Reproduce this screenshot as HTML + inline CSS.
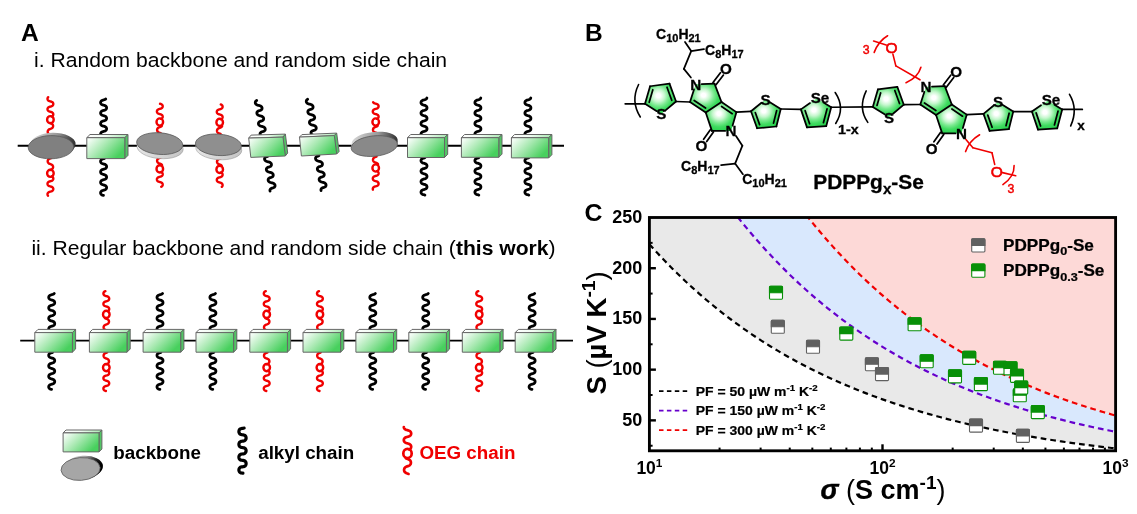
<!DOCTYPE html>
<html><head><meta charset="utf-8"><title>Figure</title>
<style>
html,body{margin:0;padding:0;background:#fff;}
body{width:1137px;height:514px;overflow:hidden;font-family:"Liberation Sans",sans-serif;}
svg{display:block;will-change:transform;transform:translateZ(0);}
text{font-family:"Liberation Sans",sans-serif;}
.b{font-weight:bold;}
</style></head><body>
<svg width="1137" height="514" viewBox="0 0 1137 514">
<defs>
<linearGradient id="gfront" x1="0" y1="0" x2="1" y2="0.55">
<stop offset="0" stop-color="#ffffff"/><stop offset="0.12" stop-color="#eefbf0"/><stop offset="0.5" stop-color="#a9e9b2"/><stop offset="1" stop-color="#48d05e"/>
</linearGradient>
<linearGradient id="gtop" x1="0" y1="0" x2="1" y2="0">
<stop offset="0" stop-color="#ffffff"/><stop offset="0.45" stop-color="#f2fcf3"/><stop offset="1" stop-color="#a6e8af"/>
</linearGradient>
<linearGradient id="gext" x1="0" y1="0" x2="1" y2="0">
<stop offset="0" stop-color="#e6e6e6"/><stop offset="1" stop-color="#c4c4c4"/>
</linearGradient>
<linearGradient id="gextup" x1="0" y1="0" x2="1" y2="0">
<stop offset="0" stop-color="#d8d8d8"/><stop offset="0.6" stop-color="#9a9a9a"/><stop offset="1" stop-color="#303030"/>
</linearGradient>
<linearGradient id="gextup2" x1="0" y1="0" x2="1" y2="0.3">
<stop offset="0" stop-color="#e0e0e0"/><stop offset="0.55" stop-color="#a0a0a0"/><stop offset="0.85" stop-color="#202020"/><stop offset="1" stop-color="#000000"/>
</linearGradient>
<radialGradient id="gring" cx="0.43" cy="0.40" r="0.68">
<stop offset="0" stop-color="#ffffff"/><stop offset="0.10" stop-color="#ffffff"/><stop offset="0.30" stop-color="#c6f7ce"/><stop offset="0.48" stop-color="#7cea91"/><stop offset="0.68" stop-color="#3fdb60"/><stop offset="1" stop-color="#1fcd46"/>
</radialGradient>
<clipPath id="plotclip"><rect x="649.4" y="217.5" width="466.2" height="233.3"/></clipPath>
</defs>
<rect x="0" y="0" width="1137" height="514" fill="#ffffff"/>

<!-- Panel A -->
<text x="21.0" y="41.2" font-size="24.6" class="b" fill="#000">A</text>
<text x="34.0" y="67.2" font-size="21.12" fill="#000">i. Random backbone and random side chain</text>
<text x="31.4" y="254.9" font-size="21.1" fill="#000">ii. Regular backbone and random side chain (<tspan class="b">this work</tspan>)</text>
<line x1="17.7" y1="145.7" x2="564" y2="145.7" stroke="#000" stroke-width="1.9"/>
<path d="M51.23,134.94 L50.80,134.77 L50.36,134.61 L49.91,134.45 L49.48,134.28 L49.08,134.07 L48.71,133.82 L48.38,133.53 L48.12,133.19 L47.91,132.80 L47.77,132.38 L47.71,131.93 L47.71,131.48 L47.79,131.04 L47.94,130.62 L48.16,130.25 L48.44,129.91 L48.77,129.62 L49.15,129.39 L49.56,129.19 L50.00,129.02 L50.44,128.86 L50.88,128.70 L51.31,128.53 L51.72,128.32 L52.09,128.08 L52.41,127.78 L52.68,127.44 L52.89,127.05 L53.03,126.63 L53.09,126.19 L53.09,125.74 L53.01,125.29 L52.86,124.88 L52.64,124.50 L52.36,124.16 L52.03,123.88 L51.65,123.64 L51.24,123.44 L50.81,123.27 L50.36,123.11" fill="none" stroke="#f00000" stroke-width="2.4" stroke-linecap="round" stroke-linejoin="round"/><ellipse cx="50.40" cy="119.70" rx="3.30" ry="3.60" fill="none" stroke="#f00000" stroke-width="2.4"/><path d="M51.72,116.56 L52.11,116.36 L52.46,116.12 L52.76,115.83 L53.00,115.49 L53.17,115.12 L53.27,114.73 L53.30,114.32 L53.25,113.91 L53.13,113.52 L52.94,113.16 L52.68,112.84 L52.36,112.56 L52.00,112.33 L51.59,112.14 L51.15,111.99 L50.69,111.86 L50.23,111.74 L49.77,111.61 L49.32,111.46 L48.91,111.28 L48.53,111.06 L48.20,110.80 L47.93,110.49 L47.72,110.14 L47.57,109.76 L47.51,109.35 L47.51,108.94 L47.59,108.54 L47.75,108.16 L47.97,107.82 L48.25,107.52 L48.59,107.26 L48.97,107.05 L49.40,106.87 L49.84,106.73 L50.30,106.60 L50.77,106.48 L51.22,106.35 L51.66,106.19 L52.06,105.99 L52.42,105.76 L52.73,105.47 L52.97,105.14 L53.15,104.78 L53.26,104.38 L53.30,103.98 L53.26,103.57 L53.15,103.17 L52.97,102.81 L52.72,102.48 L52.41,102.20 L52.05,101.96 L51.65,101.77 L51.21,101.61 L50.76,101.48 L50.29,101.35 L49.83,101.23 L49.39,101.08 L48.96,100.91 L48.58,100.70 L48.24,100.44 L47.96,100.14 L47.74,99.79 L47.59,99.41 L47.51,99.01 L47.51,98.60 L47.58,98.20 L47.72,97.81 L47.93,97.46 L48.21,97.15" fill="none" stroke="#f00000" stroke-width="2.4" stroke-linecap="round" stroke-linejoin="round"/>
<path d="M51.23,158.06 L50.80,158.23 L50.36,158.39 L49.91,158.55 L49.48,158.72 L49.08,158.93 L48.71,159.18 L48.38,159.47 L48.12,159.81 L47.91,160.20 L47.77,160.62 L47.71,161.07 L47.71,161.52 L47.79,161.96 L47.94,162.38 L48.16,162.75 L48.44,163.09 L48.77,163.38 L49.15,163.61 L49.56,163.81 L50.00,163.98 L50.44,164.14 L50.88,164.30 L51.31,164.47 L51.72,164.68 L52.09,164.92 L52.41,165.22 L52.68,165.56 L52.89,165.95 L53.03,166.37 L53.09,166.81 L53.09,167.26 L53.01,167.71 L52.86,168.12 L52.64,168.50 L52.36,168.84 L52.03,169.12 L51.65,169.36 L51.24,169.56 L50.81,169.73 L50.36,169.89" fill="none" stroke="#f00000" stroke-width="2.4" stroke-linecap="round" stroke-linejoin="round"/><ellipse cx="50.40" cy="173.30" rx="3.30" ry="3.60" fill="none" stroke="#f00000" stroke-width="2.4"/><path d="M51.72,176.44 L52.11,176.63 L52.46,176.88 L52.75,177.16 L52.99,177.49 L53.17,177.86 L53.27,178.25 L53.30,178.65 L53.26,179.05 L53.14,179.44 L52.96,179.80 L52.71,180.12 L52.41,180.40 L52.05,180.64 L51.65,180.83 L51.22,180.99 L50.77,181.12 L50.31,181.24 L49.86,181.37 L49.41,181.51 L49.00,181.68 L48.61,181.88 L48.27,182.13 L47.99,182.43 L47.76,182.77 L47.61,183.14 L47.52,183.53 L47.50,183.94 L47.56,184.34 L47.69,184.72 L47.89,185.08 L48.15,185.39 L48.47,185.66 L48.83,185.88 L49.24,186.07 L49.67,186.22 L50.13,186.35 L50.59,186.47 L51.04,186.59 L51.48,186.74 L51.89,186.92 L52.27,187.13 L52.59,187.39 L52.87,187.70 L53.08,188.05 L53.22,188.42 L53.29,188.82 L53.29,189.23 L53.22,189.62 L53.07,190.00 L52.86,190.35 L52.59,190.65 L52.26,190.91 L51.88,191.13 L51.47,191.30 L51.03,191.45 L50.58,191.57 L50.12,191.69 L49.66,191.82 L49.23,191.98 L48.82,192.16 L48.46,192.39 L48.14,192.66 L47.88,192.97 L47.69,193.33 L47.56,193.71 L47.50,194.11 L47.52,194.51 L47.61,194.91 L47.77,195.28 L47.99,195.62" fill="none" stroke="#f00000" stroke-width="2.4" stroke-linecap="round" stroke-linejoin="round"/>
<g transform="translate(2.0 -2.8) rotate(-1 50.9 147.2)"><ellipse cx="50.9" cy="147.2" rx="22.7" ry="11.6" fill="url(#gextup)" stroke="none" stroke-width="0.6"/></g><g transform="translate(1.0 -1.4) rotate(-1 50.9 147.2)"><ellipse cx="50.9" cy="147.2" rx="22.7" ry="11.6" fill="url(#gextup)"/></g><g transform="rotate(-1 50.9 147.2)"><ellipse cx="50.9" cy="147.2" rx="22.7" ry="11.6" fill="#808080" stroke="#5a5a5a" stroke-width="0.8"/></g>
<path d="M104.53,136.94 L103.96,136.77 L103.39,136.62 L102.82,136.46 L102.28,136.27 L101.79,136.02 L101.36,135.72 L101.02,135.34 L100.78,134.91 L100.63,134.44 L100.60,133.95 L100.68,133.46 L100.87,133.00 L101.15,132.59 L101.53,132.25 L101.98,131.97 L102.50,131.75 L103.05,131.57 L103.63,131.42 L104.20,131.26 L104.75,131.09 L105.26,130.86 L105.71,130.57 L106.08,130.22 L106.36,129.81 L106.53,129.35 L106.60,128.86 L106.56,128.36 L106.40,127.89 L106.15,127.47 L105.80,127.10 L105.37,126.80 L104.87,126.56 L104.33,126.37 L103.76,126.22 L103.18,126.07 L102.62,125.90 L102.10,125.69 L101.63,125.42 L101.23,125.09 L100.92,124.70 L100.71,124.25 L100.61,123.77 L100.62,123.27 L100.74,122.79 L100.96,122.35 L101.28,121.96 L101.69,121.64 L102.16,121.38 L102.69,121.18 L103.26,121.01 L103.83,120.86 L104.40,120.70 L104.94,120.51 L105.43,120.26 L105.85,119.95 L106.19,119.58 L106.43,119.15 L106.57,118.67 L106.60,118.18 L106.51,117.69 L106.32,117.24 L106.03,116.83 L105.65,116.49 L105.20,116.21 L104.68,115.99 L104.13,115.81 L103.55,115.66 L102.98,115.51 L102.43,115.33 L101.92,115.10 L101.48,114.81 L101.11,114.46 L100.84,114.04 L100.66,113.58 L100.60,113.09 L100.65,112.60 L100.80,112.13 L101.06,111.70 L101.42,111.34 L101.85,111.04 L102.35,110.80 L102.89,110.62 L103.46,110.46 L104.04,110.31 L104.60,110.14 L105.12,109.93 L105.59,109.66 L105.98,109.33 L106.29,108.93 L106.49,108.48 L106.59,108.00 L106.58,107.50 L106.46,107.02 L106.23,106.58 L105.91,106.20 L105.50,105.88 L105.02,105.62 L104.49,105.42 L103.92,105.26 L103.35,105.11 L102.78,104.95 L102.24,104.75 L101.76,104.50 L101.34,104.19 L101.00,103.81 L100.76,103.38 L100.63,102.90 L100.60,102.41 L100.69,101.93 L100.88,101.47 L101.18,101.07 L101.56,100.72 L102.02,100.45 L102.54,100.23 L103.09,100.06 L103.67,99.91 L104.24,99.75 L104.79,99.57 L105.29,99.34 L105.74,99.05" fill="none" stroke="#000" stroke-width="2.8" stroke-linecap="round" stroke-linejoin="round"/>
<path d="M104.53,158.46 L103.98,158.62 L103.43,158.77 L102.88,158.92 L102.36,159.10 L101.87,159.33 L101.45,159.61 L101.10,159.96 L100.84,160.36 L100.67,160.80 L100.60,161.27 L100.64,161.75 L100.77,162.20 L101.01,162.62 L101.33,162.99 L101.73,163.29 L102.19,163.53 L102.71,163.73 L103.25,163.88 L103.81,164.03 L104.35,164.18 L104.88,164.36 L105.36,164.59 L105.77,164.88 L106.12,165.23 L106.38,165.63 L106.54,166.08 L106.60,166.55 L106.56,167.03 L106.41,167.48 L106.18,167.90 L105.85,168.26 L105.44,168.56 L104.97,168.80 L104.46,168.99 L103.91,169.14 L103.36,169.29 L102.81,169.44 L102.29,169.63 L101.81,169.86 L101.40,170.15 L101.06,170.50 L100.81,170.91 L100.65,171.36 L100.60,171.83 L100.65,172.31 L100.80,172.76 L101.04,173.17 L101.38,173.53 L101.79,173.82 L102.26,174.06 L102.78,174.25 L103.32,174.40 L103.88,174.55 L104.42,174.70 L104.94,174.89 L105.41,175.13 L105.82,175.42 L106.16,175.78 L106.40,176.19 L106.55,176.64 L106.60,177.12 L106.55,177.59 L106.39,178.04 L106.14,178.45 L105.80,178.80 L105.39,179.09 L104.91,179.32 L104.39,179.51 L103.84,179.66 L103.29,179.81 L102.74,179.96 L102.23,180.15 L101.76,180.39 L101.35,180.69 L101.02,181.05 L100.79,181.47 L100.64,181.92 L100.60,182.40 L100.66,182.87 L100.82,183.32 L101.08,183.72 L101.43,184.07 L101.84,184.36 L102.32,184.59 L102.85,184.77 L103.39,184.92 L103.95,185.07 L104.49,185.22 L105.01,185.42 L105.47,185.66 L105.87,185.96 L106.19,186.33 L106.43,186.75 L106.56,187.20 L106.60,187.68 L106.53,188.15 L106.36,188.59 L106.10,188.99 L105.75,189.34 L105.33,189.62 L104.84,189.85 L104.32,190.03 L103.77,190.18 L103.22,190.33 L102.67,190.49 L102.16,190.68 L101.70,190.93 L101.31,191.24 L100.99,191.60 L100.76,192.02 L100.63,192.48 L100.60,192.96 L100.68,193.43 L100.85,193.87 L101.12,194.27 L101.48,194.61 L101.90,194.89 L102.39,195.11 L102.91,195.29 L103.47,195.44" fill="none" stroke="#000" stroke-width="2.8" stroke-linecap="round" stroke-linejoin="round"/>
<polygon points="86.80,137.70 90.00,134.50 128.00,134.50 124.80,137.70" fill="url(#gtop)" stroke="#666666" stroke-width="1.0" stroke-linejoin="round"/><polygon points="124.80,137.70 128.00,134.50 128.00,155.40 124.80,158.60" fill="#52c565" stroke="#666666" stroke-width="1.0" stroke-linejoin="round"/>
<polygon points="86.80,137.70 124.80,137.70 124.80,158.60 86.80,158.60" fill="url(#gfront)" stroke="#666666" stroke-width="1.0" stroke-linejoin="round"/>
<path d="M160.63,133.14 L160.35,133.02 L160.06,132.91 L159.76,132.81 L159.47,132.71 L159.18,132.60 L158.90,132.48 L158.62,132.35 L158.37,132.21 L158.12,132.04 L157.90,131.85 L157.71,131.64 L157.53,131.41 L157.39,131.16 L157.27,130.89 L157.18,130.61 L157.13,130.32 L157.10,130.02 L157.11,129.73 L157.15,129.43 L157.22,129.15 L157.32,128.87 L157.46,128.61 L157.62,128.37 L157.80,128.15 L158.01,127.95 L158.24,127.78 L158.49,127.62 L158.76,127.48 L159.04,127.36 L159.32,127.24 L159.62,127.14 L159.91,127.04 L160.20,126.93 L160.49,126.82 L160.77,126.70 L161.04,126.57 L161.30,126.42 L161.53,126.24 L161.75,126.05 L161.94,125.83" fill="none" stroke="#f00000" stroke-width="2.4" stroke-linecap="round" stroke-linejoin="round"/><ellipse cx="159.80" cy="122.00" rx="3.30" ry="3.60" fill="none" stroke="#f00000" stroke-width="2.4"/><path d="M161.12,118.86 L161.43,118.71 L161.72,118.53 L161.98,118.32 L162.21,118.08 L162.39,117.81 L162.54,117.52 L162.64,117.21 L162.69,116.90 L162.70,116.57 L162.66,116.25 L162.57,115.94 L162.44,115.64 L162.27,115.37 L162.06,115.12 L161.81,114.90 L161.53,114.71 L161.22,114.54 L160.89,114.41 L160.54,114.29 L160.18,114.18 L159.82,114.08 L159.45,113.99 L159.09,113.88 L158.74,113.77 L158.41,113.63 L158.10,113.47 L157.81,113.28 L157.56,113.06 L157.35,112.82 L157.17,112.54 L157.04,112.25 L156.95,111.94 L156.90,111.62 L156.91,111.29 L156.96,110.98 L157.05,110.67 L157.19,110.38 L157.37,110.11 L157.59,109.87 L157.85,109.65 L158.14,109.47 L158.45,109.31 L158.79,109.18 L159.14,109.06 L159.50,108.96 L159.87,108.86 L160.24,108.76 L160.60,108.66 L160.94,108.54 L161.27,108.39 L161.57,108.23 L161.85,108.03 L162.09,107.81 L162.30,107.55 L162.47,107.28 L162.59,106.98 L162.67,106.66 L162.70,106.34 L162.68,106.02 L162.62,105.70 L162.52,105.40 L162.37,105.11 L162.18,104.85 L161.95,104.61 L161.68,104.41 L161.39,104.23 L161.07,104.08 L160.73,103.95 L160.37,103.84 L160.01,103.73" fill="none" stroke="#f00000" stroke-width="2.4" stroke-linecap="round" stroke-linejoin="round"/>
<path d="M160.63,157.56 L160.34,157.68 L160.04,157.79 L159.74,157.90 L159.44,158.00 L159.14,158.11 L158.85,158.23 L158.58,158.37 L158.32,158.53 L158.07,158.70 L157.85,158.90 L157.66,159.12 L157.49,159.36 L157.34,159.62 L157.23,159.90 L157.16,160.20 L157.11,160.50 L157.10,160.80 L157.12,161.11 L157.18,161.41 L157.27,161.69 L157.39,161.97 L157.54,162.22 L157.72,162.46 L157.93,162.67 L158.15,162.86 L158.40,163.03 L158.67,163.18 L158.95,163.31 L159.24,163.43 L159.54,163.54 L159.84,163.64 L160.15,163.75 L160.44,163.86 L160.73,163.98 L161.01,164.11 L161.27,164.27 L161.52,164.44 L161.74,164.64 L161.94,164.86 L162.11,165.10" fill="none" stroke="#f00000" stroke-width="2.4" stroke-linecap="round" stroke-linejoin="round"/><ellipse cx="159.80" cy="168.90" rx="3.30" ry="3.60" fill="none" stroke="#f00000" stroke-width="2.4"/><path d="M161.12,172.04 L161.42,172.18 L161.70,172.35 L161.95,172.55 L162.17,172.78 L162.35,173.02 L162.50,173.29 L162.61,173.58 L162.67,173.88 L162.70,174.19 L162.68,174.50 L162.62,174.80 L162.52,175.09 L162.38,175.36 L162.21,175.62 L161.99,175.85 L161.75,176.05 L161.48,176.22 L161.18,176.38 L160.86,176.51 L160.53,176.62 L160.18,176.72 L159.84,176.81 L159.49,176.90 L159.14,177.00 L158.80,177.11 L158.48,177.24 L158.18,177.38 L157.90,177.55 L157.65,177.75 L157.43,177.98 L157.25,178.22 L157.10,178.49 L156.99,178.78 L156.93,179.08 L156.90,179.39 L156.92,179.70 L156.98,180.00 L157.08,180.29 L157.22,180.56 L157.39,180.82 L157.61,181.05 L157.85,181.25 L158.12,181.42 L158.42,181.58 L158.74,181.71 L159.07,181.82 L159.42,181.92 L159.76,182.01 L160.11,182.10 L160.46,182.20 L160.80,182.31 L161.12,182.44 L161.42,182.58 L161.70,182.75 L161.95,182.95 L162.17,183.18 L162.35,183.42 L162.50,183.69 L162.61,183.98 L162.67,184.28 L162.70,184.59 L162.68,184.90 L162.62,185.20 L162.52,185.49 L162.38,185.76 L162.21,186.02 L161.99,186.25 L161.75,186.45 L161.48,186.62 L161.18,186.78" fill="none" stroke="#f00000" stroke-width="2.4" stroke-linecap="round" stroke-linejoin="round"/>
<g transform="translate(0.4 4.2) rotate(4.6 159.7 143.6)"><ellipse cx="159.7" cy="143.6" rx="23.1" ry="10.8" fill="url(#gext)" stroke="#9a9a9a" stroke-width="0.6"/></g><g transform="translate(0.2 2.1) rotate(4.6 159.7 143.6)"><ellipse cx="159.7" cy="143.6" rx="23.1" ry="10.8" fill="url(#gext)"/></g><g transform="rotate(4.6 159.7 143.6)"><ellipse cx="159.7" cy="143.6" rx="23.1" ry="10.8" fill="#8f8f8f" stroke="#5a5a5a" stroke-width="0.8"/></g>
<path d="M220.53,133.94 L220.23,133.82 L219.93,133.70 L219.62,133.60 L219.31,133.49 L219.01,133.37 L218.71,133.25 L218.43,133.10 L218.17,132.94 L217.92,132.76 L217.70,132.55 L217.51,132.32 L217.34,132.06 L217.21,131.79 L217.10,131.50 L217.04,131.19 L217.00,130.88 L217.01,130.57 L217.04,130.26 L217.12,129.96 L217.22,129.67 L217.36,129.40 L217.53,129.15 L217.73,128.92 L217.96,128.72 L218.20,128.53 L218.47,128.38 L218.75,128.23 L219.05,128.11 L219.35,128.00 L219.66,127.89 L219.97,127.78 L220.28,127.67 L220.58,127.55 L220.86,127.41 L221.13,127.26 L221.39,127.08 L221.62,126.88 L221.82,126.66 L222.00,126.41 L222.15,126.15" fill="none" stroke="#f00000" stroke-width="2.4" stroke-linecap="round" stroke-linejoin="round"/><ellipse cx="219.70" cy="122.40" rx="3.30" ry="3.60" fill="none" stroke="#f00000" stroke-width="2.4"/><path d="M221.02,119.26 L221.32,119.11 L221.60,118.94 L221.86,118.74 L222.08,118.51 L222.26,118.26 L222.41,117.98 L222.52,117.69 L222.58,117.38 L222.60,117.07 L222.58,116.76 L222.51,116.45 L222.40,116.16 L222.25,115.89 L222.07,115.64 L221.84,115.41 L221.59,115.21 L221.31,115.04 L221.00,114.89 L220.67,114.76 L220.33,114.65 L219.98,114.55 L219.62,114.46 L219.27,114.37 L218.92,114.26 L218.59,114.15 L218.27,114.01 L217.97,113.85 L217.70,113.67 L217.46,113.46 L217.25,113.22 L217.08,112.96 L216.95,112.68 L216.86,112.38 L216.81,112.07 L216.80,111.76 L216.84,111.45 L216.92,111.15 L217.05,110.86 L217.21,110.59 L217.41,110.35 L217.65,110.13 L217.91,109.94 L218.20,109.78 L218.52,109.64 L218.85,109.52 L219.20,109.41 L219.55,109.32 L219.91,109.23 L220.26,109.13 L220.60,109.02 L220.93,108.90 L221.24,108.76 L221.53,108.59 L221.79,108.40 L222.02,108.17 L222.22,107.93 L222.37,107.66 L222.49,107.37 L222.57,107.07 L222.60,106.75 L222.59,106.44 L222.53,106.13 L222.44,105.84 L222.30,105.56 L222.12,105.30 L221.91,105.07 L221.66,104.86 L221.38,104.68 L221.08,104.53 L220.76,104.39" fill="none" stroke="#f00000" stroke-width="2.4" stroke-linecap="round" stroke-linejoin="round"/>
<path d="M220.53,158.46 L220.26,158.58 L219.97,158.68 L219.69,158.78 L219.40,158.88 L219.11,158.98 L218.84,159.10 L218.57,159.22 L218.32,159.36 L218.08,159.52 L217.86,159.70 L217.66,159.90 L217.48,160.12 L217.33,160.36 L217.21,160.61 L217.11,160.88 L217.04,161.16 L217.01,161.45 L217.00,161.74 L217.03,162.03 L217.08,162.31 L217.17,162.59 L217.28,162.85 L217.42,163.09 L217.59,163.32 L217.78,163.52 L217.99,163.71 L218.22,163.88 L218.47,164.02 L218.73,164.16 L219.01,164.27 L219.29,164.38 L219.57,164.48 L219.86,164.58 L220.15,164.68 L220.43,164.79 L220.70,164.91 L220.96,165.04 L221.21,165.19 L221.44,165.36 L221.65,165.55" fill="none" stroke="#f00000" stroke-width="2.4" stroke-linecap="round" stroke-linejoin="round"/><ellipse cx="219.70" cy="169.40" rx="3.30" ry="3.60" fill="none" stroke="#f00000" stroke-width="2.4"/><path d="M221.02,172.54 L221.31,172.68 L221.58,172.84 L221.82,173.03 L222.04,173.24 L222.22,173.48 L222.37,173.73 L222.48,174.01 L222.56,174.29 L222.60,174.59 L222.59,174.89 L222.55,175.18 L222.47,175.47 L222.35,175.74 L222.20,175.99 L222.01,176.23 L221.79,176.44 L221.55,176.62 L221.27,176.78 L220.98,176.92 L220.67,177.04 L220.34,177.14 L220.01,177.24 L219.67,177.33 L219.34,177.42 L219.00,177.51 L218.68,177.62 L218.37,177.74 L218.08,177.88 L217.81,178.05 L217.57,178.24 L217.36,178.45 L217.17,178.69 L217.02,178.94 L216.91,179.22 L216.84,179.51 L216.80,179.80 L216.81,180.10 L216.85,180.39 L216.93,180.68 L217.05,180.95 L217.21,181.20 L217.40,181.43 L217.62,181.64 L217.86,181.83 L218.14,181.99 L218.43,182.13 L218.74,182.24 L219.07,182.35 L219.40,182.44 L219.74,182.53 L220.08,182.62 L220.41,182.72 L220.73,182.82 L221.04,182.95 L221.33,183.09 L221.60,183.25 L221.84,183.44 L222.05,183.66 L222.23,183.90 L222.38,184.15 L222.49,184.43 L222.56,184.72 L222.60,185.01 L222.59,185.31 L222.55,185.60 L222.46,185.89 L222.34,186.16 L222.19,186.41 L222.00,186.64 L221.78,186.85" fill="none" stroke="#f00000" stroke-width="2.4" stroke-linecap="round" stroke-linejoin="round"/>
<g transform="translate(0.4 4.2) rotate(4.2 218.4 144.8)"><ellipse cx="218.4" cy="144.8" rx="23.0" ry="10.7" fill="url(#gext)" stroke="#9a9a9a" stroke-width="0.6"/></g><g transform="translate(0.2 2.1) rotate(4.2 218.4 144.8)"><ellipse cx="218.4" cy="144.8" rx="23.0" ry="10.7" fill="url(#gext)"/></g><g transform="rotate(4.2 218.4 144.8)"><ellipse cx="218.4" cy="144.8" rx="23.0" ry="10.7" fill="#8f8f8f" stroke="#5a5a5a" stroke-width="0.8"/></g>
<path d="M264.43,137.14 L263.85,136.98 L263.26,136.84 L262.67,136.69 L262.11,136.51 L261.59,136.30 L261.12,136.02 L260.72,135.69 L260.41,135.31 L260.18,134.88 L260.05,134.42 L260.02,133.95 L260.08,133.50 L260.24,133.08 L260.49,132.71 L260.82,132.39 L261.22,132.13 L261.66,131.93 L262.14,131.77 L262.64,131.62 L263.13,131.48 L263.61,131.31 L264.06,131.11 L264.45,130.85 L264.77,130.54 L265.02,130.16 L265.18,129.74 L265.24,129.29 L265.21,128.82 L265.08,128.36 L264.85,127.93 L264.53,127.55 L264.13,127.22 L263.66,126.95 L263.13,126.73 L262.57,126.56 L261.98,126.41 L261.39,126.27 L260.82,126.11 L260.27,125.92 L259.77,125.67 L259.34,125.37 L258.98,125.01 L258.70,124.60 L258.52,124.16 L258.44,123.69 L258.45,123.23 L258.57,122.79 L258.77,122.39 L259.06,122.05 L259.42,121.76 L259.84,121.53 L260.30,121.35 L260.79,121.20 L261.29,121.06 L261.78,120.90 L262.25,120.72 L262.67,120.49 L263.03,120.21 L263.32,119.86 L263.53,119.47 L263.64,119.03 L263.66,118.56 L263.58,118.10 L263.40,117.65 L263.12,117.24 L262.76,116.88 L262.33,116.58 L261.83,116.34 L261.29,116.14 L260.71,115.98 L260.12,115.84 L259.53,115.70 L258.97,115.52 L258.44,115.31 L257.97,115.04 L257.57,114.71 L257.25,114.32 L257.02,113.89 L256.89,113.44 L256.85,112.97 L256.91,112.51 L257.07,112.09 L257.32,111.72 L257.64,111.40 L258.03,111.14 L258.48,110.94 L258.95,110.77 L259.45,110.63 L259.95,110.49 L260.43,110.32 L260.87,110.12 L261.27,109.86 L261.60,109.55 L261.85,109.18 L262.01,108.76 L262.08,108.31 L262.05,107.84 L261.92,107.38 L261.69,106.95 L261.38,106.56 L260.98,106.23 L260.51,105.96 L259.99,105.74 L259.43,105.56 L258.84,105.42 L258.25,105.27 L257.68,105.12 L257.13,104.93 L256.63,104.69 L256.19,104.39 L255.83,104.03 L255.55,103.62 L255.36,103.18 L255.28,102.71 L255.29,102.25 L255.40,101.81 L255.60,101.41 L255.88,101.06 L256.24,100.77 L256.66,100.54" fill="none" stroke="#000" stroke-width="2.8" stroke-linecap="round" stroke-linejoin="round"/>
<path d="M267.93,156.26 L267.47,156.42 L267.00,156.55 L266.53,156.69 L266.08,156.85 L265.66,157.05 L265.29,157.30 L264.99,157.61 L264.75,157.96 L264.60,158.36 L264.53,158.79 L264.55,159.24 L264.67,159.68 L264.87,160.10 L265.16,160.49 L265.52,160.82 L265.95,161.10 L266.44,161.33 L266.97,161.51 L267.53,161.67 L268.10,161.80 L268.67,161.94 L269.22,162.10 L269.74,162.30 L270.21,162.55 L270.61,162.86 L270.95,163.21 L271.20,163.61 L271.37,164.04 L271.45,164.49 L271.43,164.93 L271.33,165.35 L271.14,165.74 L270.88,166.07 L270.55,166.35 L270.16,166.58 L269.73,166.76 L269.27,166.92 L268.80,167.05 L268.33,167.19 L267.88,167.35 L267.46,167.55 L267.09,167.80 L266.79,168.11 L266.55,168.46 L266.40,168.86 L266.33,169.29 L266.35,169.74 L266.47,170.18 L266.67,170.60 L266.96,170.99 L267.32,171.32 L267.75,171.60 L268.24,171.83 L268.77,172.01 L269.33,172.17 L269.90,172.30 L270.47,172.44 L271.02,172.60 L271.54,172.80 L272.01,173.05 L272.41,173.36 L272.75,173.71 L273.00,174.11 L273.17,174.54 L273.25,174.99 L273.23,175.43 L273.13,175.85 L272.94,176.24 L272.68,176.57 L272.35,176.85 L271.96,177.08 L271.53,177.26 L271.07,177.42 L270.60,177.55 L270.13,177.69 L269.68,177.85 L269.26,178.05 L268.89,178.30 L268.59,178.61 L268.35,178.96 L268.20,179.36 L268.13,179.79 L268.15,180.24 L268.27,180.68 L268.47,181.10 L268.76,181.49 L269.12,181.82 L269.55,182.10 L270.04,182.33 L270.57,182.51 L271.13,182.67 L271.70,182.80 L272.27,182.94 L272.82,183.10 L273.34,183.30 L273.81,183.55 L274.21,183.86 L274.55,184.21 L274.80,184.61 L274.97,185.04 L275.05,185.49 L275.03,185.93 L274.93,186.35 L274.74,186.74 L274.48,187.07 L274.15,187.35 L273.76,187.58 L273.33,187.76 L272.87,187.92 L272.40,188.05 L271.93,188.19 L271.48,188.35 L271.06,188.55 L270.69,188.80 L270.39,189.11 L270.15,189.46 L270.00,189.86 L269.93,190.29 L269.95,190.74 L270.07,191.18" fill="none" stroke="#000" stroke-width="2.8" stroke-linecap="round" stroke-linejoin="round"/>
<polygon points="248.70,138.10 251.10,135.10 285.40,134.10 283.00,137.10" fill="url(#gtop)" stroke="#666666" stroke-width="1.0" stroke-linejoin="round"/><polygon points="283.00,137.10 285.40,134.10 287.70,153.00 285.30,156.00" fill="#52c565" stroke="#666666" stroke-width="1.0" stroke-linejoin="round"/>
<polygon points="248.70,138.10 283.00,137.10 285.30,156.00 250.80,157.40" fill="url(#gfront)" stroke="#666666" stroke-width="1.0" stroke-linejoin="round"/>
<path d="M315.43,135.94 L314.85,135.78 L314.26,135.64 L313.67,135.49 L313.11,135.31 L312.59,135.10 L312.12,134.82 L311.72,134.49 L311.41,134.11 L311.18,133.68 L311.05,133.22 L311.02,132.75 L311.08,132.30 L311.24,131.88 L311.49,131.51 L311.82,131.19 L312.22,130.93 L312.66,130.73 L313.14,130.57 L313.64,130.42 L314.13,130.28 L314.61,130.11 L315.06,129.91 L315.45,129.65 L315.77,129.34 L316.02,128.96 L316.18,128.54 L316.24,128.09 L316.21,127.62 L316.08,127.16 L315.85,126.73 L315.53,126.35 L315.13,126.02 L314.66,125.75 L314.13,125.53 L313.57,125.36 L312.98,125.21 L312.39,125.07 L311.82,124.91 L311.27,124.72 L310.77,124.47 L310.34,124.17 L309.98,123.81 L309.70,123.40 L309.52,122.96 L309.44,122.49 L309.45,122.03 L309.57,121.59 L309.77,121.19 L310.06,120.85 L310.42,120.56 L310.84,120.33 L311.30,120.15 L311.79,120.00 L312.29,119.86 L312.78,119.70 L313.25,119.52 L313.67,119.29 L314.03,119.01 L314.32,118.66 L314.53,118.27 L314.64,117.83 L314.66,117.36 L314.58,116.90 L314.40,116.45 L314.12,116.04 L313.76,115.68 L313.33,115.38 L312.83,115.14 L312.29,114.94 L311.71,114.78 L311.12,114.64 L310.53,114.50 L309.97,114.32 L309.44,114.11 L308.97,113.84 L308.57,113.51 L308.25,113.12 L308.02,112.69 L307.89,112.24 L307.85,111.77 L307.91,111.31 L308.07,110.89 L308.32,110.52 L308.64,110.20 L309.03,109.94 L309.48,109.74 L309.95,109.57 L310.45,109.43 L310.95,109.29 L311.43,109.12 L311.87,108.92 L312.27,108.66 L312.60,108.35 L312.85,107.98 L313.01,107.56 L313.08,107.11 L313.05,106.64 L312.92,106.18 L312.69,105.75 L312.38,105.36 L311.98,105.03 L311.51,104.76 L310.99,104.54 L310.43,104.36 L309.84,104.22 L309.25,104.07 L308.68,103.92 L308.13,103.73 L307.63,103.49 L307.19,103.19 L306.83,102.83 L306.55,102.42 L306.36,101.98 L306.28,101.51 L306.29,101.05 L306.40,100.61 L306.60,100.21 L306.88,99.86 L307.24,99.57 L307.66,99.34" fill="none" stroke="#000" stroke-width="2.8" stroke-linecap="round" stroke-linejoin="round"/>
<path d="M318.93,155.76 L318.47,155.92 L318.00,156.05 L317.53,156.19 L317.08,156.35 L316.66,156.55 L316.29,156.80 L315.99,157.11 L315.75,157.46 L315.60,157.86 L315.53,158.29 L315.55,158.74 L315.67,159.18 L315.87,159.60 L316.16,159.99 L316.52,160.32 L316.95,160.60 L317.44,160.83 L317.97,161.01 L318.53,161.17 L319.10,161.30 L319.67,161.44 L320.22,161.60 L320.74,161.80 L321.21,162.05 L321.61,162.36 L321.95,162.71 L322.20,163.11 L322.37,163.54 L322.45,163.99 L322.43,164.43 L322.33,164.85 L322.14,165.24 L321.88,165.57 L321.55,165.85 L321.16,166.08 L320.73,166.26 L320.27,166.42 L319.80,166.55 L319.33,166.69 L318.88,166.85 L318.46,167.05 L318.09,167.30 L317.79,167.61 L317.55,167.96 L317.40,168.36 L317.33,168.79 L317.35,169.24 L317.47,169.68 L317.67,170.10 L317.96,170.49 L318.32,170.82 L318.75,171.10 L319.24,171.33 L319.77,171.51 L320.33,171.67 L320.90,171.80 L321.47,171.94 L322.02,172.10 L322.54,172.30 L323.01,172.55 L323.41,172.86 L323.75,173.21 L324.00,173.61 L324.17,174.04 L324.25,174.49 L324.23,174.93 L324.13,175.35 L323.94,175.74 L323.68,176.07 L323.35,176.35 L322.96,176.58 L322.53,176.76 L322.07,176.92 L321.60,177.05 L321.13,177.19 L320.68,177.35 L320.26,177.55 L319.89,177.80 L319.59,178.11 L319.35,178.46 L319.20,178.86 L319.13,179.29 L319.15,179.74 L319.27,180.18 L319.47,180.60 L319.76,180.99 L320.12,181.32 L320.55,181.60 L321.04,181.83 L321.57,182.01 L322.13,182.17 L322.70,182.30 L323.27,182.44 L323.82,182.60 L324.34,182.80 L324.81,183.05 L325.21,183.36 L325.55,183.71 L325.80,184.11 L325.97,184.54 L326.05,184.99 L326.03,185.43 L325.93,185.85 L325.74,186.24 L325.48,186.57 L325.15,186.85 L324.76,187.08 L324.33,187.26 L323.87,187.42 L323.40,187.55 L322.93,187.69 L322.48,187.85 L322.06,188.05 L321.69,188.30 L321.39,188.61 L321.15,188.96 L321.00,189.36 L320.93,189.79 L320.95,190.24 L321.07,190.68" fill="none" stroke="#000" stroke-width="2.8" stroke-linecap="round" stroke-linejoin="round"/>
<polygon points="299.50,137.10 301.90,134.60 336.70,133.10 334.30,135.60" fill="url(#gtop)" stroke="#666666" stroke-width="1.0" stroke-linejoin="round"/><polygon points="334.30,135.60 336.70,133.10 339.10,151.50 336.70,154.00" fill="#52c565" stroke="#666666" stroke-width="1.0" stroke-linejoin="round"/>
<polygon points="299.50,137.10 334.30,135.60 336.70,154.00 301.40,156.00" fill="url(#gfront)" stroke="#666666" stroke-width="1.0" stroke-linejoin="round"/>
<path d="M376.53,132.94 L376.26,132.82 L375.97,132.72 L375.69,132.62 L375.40,132.52 L375.11,132.42 L374.84,132.30 L374.57,132.18 L374.32,132.04 L374.08,131.88 L373.86,131.70 L373.66,131.50 L373.48,131.28 L373.33,131.04 L373.21,130.79 L373.11,130.52 L373.04,130.24 L373.01,129.95 L373.00,129.66 L373.03,129.37 L373.08,129.09 L373.17,128.81 L373.28,128.55 L373.42,128.31 L373.59,128.08 L373.78,127.88 L373.99,127.69 L374.22,127.52 L374.47,127.38 L374.73,127.24 L375.01,127.13 L375.29,127.02 L375.57,126.92 L375.86,126.82 L376.15,126.72 L376.43,126.61 L376.70,126.49 L376.96,126.36 L377.21,126.21 L377.44,126.04 L377.65,125.85" fill="none" stroke="#f00000" stroke-width="2.4" stroke-linecap="round" stroke-linejoin="round"/><ellipse cx="375.70" cy="122.00" rx="3.30" ry="3.60" fill="none" stroke="#f00000" stroke-width="2.4"/><path d="M377.02,118.86 L377.37,118.69 L377.70,118.47 L377.98,118.22 L378.21,117.94 L378.39,117.62 L378.52,117.27 L378.59,116.91 L378.60,116.54 L378.54,116.18 L378.43,115.83 L378.26,115.50 L378.04,115.21 L377.77,114.95 L377.46,114.73 L377.11,114.54 L376.73,114.38 L376.33,114.25 L375.92,114.14 L375.50,114.03 L375.09,113.91 L374.69,113.78 L374.31,113.63 L373.96,113.45 L373.64,113.22 L373.37,112.97 L373.15,112.67 L372.98,112.35 L372.86,112.00 L372.81,111.64 L372.81,111.27 L372.87,110.91 L373.00,110.56 L373.18,110.24 L373.41,109.95 L373.69,109.70 L374.01,109.48 L374.36,109.30 L374.75,109.15 L375.15,109.03 L375.56,108.92 L375.98,108.81 L376.39,108.69 L376.79,108.56 L377.17,108.40 L377.51,108.20 L377.82,107.97 L378.08,107.71 L378.29,107.41 L378.45,107.08 L378.56,106.73 L378.60,106.36 L378.58,105.99 L378.51,105.63 L378.37,105.29 L378.18,104.98 L377.94,104.70 L377.65,104.45 L377.32,104.25 L376.96,104.07 L376.57,103.93 L376.17,103.80 L375.75,103.69 L375.33,103.58 L374.92,103.46 L374.53,103.33 L374.16,103.16 L373.82,102.96 L373.53,102.72 L373.27,102.45 L373.07,102.14" fill="none" stroke="#f00000" stroke-width="2.4" stroke-linecap="round" stroke-linejoin="round"/>
<path d="M376.53,156.56 L376.24,156.68 L375.94,156.79 L375.63,156.90 L375.33,157.01 L375.02,157.12 L374.73,157.24 L374.45,157.38 L374.19,157.54 L373.95,157.72 L373.73,157.93 L373.53,158.15 L373.36,158.40 L373.23,158.67 L373.12,158.95 L373.05,159.25 L373.01,159.56 L373.00,159.87 L373.03,160.17 L373.10,160.47 L373.20,160.76 L373.33,161.03 L373.49,161.29 L373.67,161.52 L373.89,161.73 L374.13,161.91 L374.39,162.08 L374.66,162.22 L374.95,162.35 L375.25,162.47 L375.55,162.57 L375.86,162.68 L376.16,162.79 L376.46,162.90 L376.75,163.03 L377.02,163.18 L377.28,163.34 L377.52,163.53 L377.73,163.74 L377.92,163.97 L378.08,164.23" fill="none" stroke="#f00000" stroke-width="2.4" stroke-linecap="round" stroke-linejoin="round"/><ellipse cx="375.70" cy="168.00" rx="3.30" ry="3.60" fill="none" stroke="#f00000" stroke-width="2.4"/><path d="M377.02,171.14 L377.40,171.33 L377.74,171.56 L378.03,171.84 L378.27,172.15 L378.45,172.50 L378.56,172.88 L378.60,173.27 L378.57,173.67 L378.48,174.05 L378.32,174.41 L378.09,174.73 L377.81,175.02 L377.48,175.26 L377.11,175.46 L376.70,175.63 L376.27,175.77 L375.83,175.89 L375.38,176.00 L374.94,176.13 L374.52,176.28 L374.13,176.46 L373.77,176.68 L373.46,176.94 L373.20,177.24 L373.01,177.58 L372.87,177.95 L372.81,178.34 L372.81,178.74 L372.88,179.12 L373.02,179.49 L373.22,179.83 L373.49,180.13 L373.80,180.38 L374.16,180.60 L374.56,180.78 L374.98,180.92 L375.42,181.05 L375.87,181.16 L376.31,181.29 L376.74,181.43 L377.15,181.60 L377.52,181.80 L377.84,182.05 L378.12,182.34 L378.34,182.67 L378.49,183.03 L378.58,183.41 L378.60,183.80 L378.55,184.19 L378.43,184.57 L378.25,184.92 L378.01,185.23 L377.71,185.50 L377.36,185.73 L376.98,185.92 L376.56,186.08 L376.13,186.21 L375.68,186.33 L375.23,186.44 L374.80,186.58 L374.39,186.73 L374.00,186.93 L373.66,187.16 L373.37,187.44 L373.13,187.75 L372.95,188.10 L372.84,188.48 L372.80,188.87 L372.83,189.26 L372.92,189.65" fill="none" stroke="#f00000" stroke-width="2.4" stroke-linecap="round" stroke-linejoin="round"/>
<g transform="translate(0.3 -4.0) rotate(-5.8 374.3 146.05)"><ellipse cx="374.3" cy="146.05" rx="23.2" ry="10.2" fill="url(#gextup)" stroke="none" stroke-width="0.6"/></g><g transform="translate(0.15 -2.0) rotate(-5.8 374.3 146.05)"><ellipse cx="374.3" cy="146.05" rx="23.2" ry="10.2" fill="url(#gextup)"/></g><g transform="rotate(-5.8 374.3 146.05)"><ellipse cx="374.3" cy="146.05" rx="23.2" ry="10.2" fill="#898989" stroke="#5a5a5a" stroke-width="0.8"/></g>
<path d="M424.93,136.94 L424.35,136.77 L423.76,136.61 L423.18,136.45 L422.64,136.25 L422.14,136.00 L421.72,135.67 L421.38,135.28 L421.15,134.84 L421.02,134.35 L421.01,133.85 L421.11,133.35 L421.33,132.90 L421.65,132.49 L422.06,132.16 L422.54,131.89 L423.08,131.68 L423.65,131.52 L424.24,131.36 L424.82,131.20 L425.37,131.00 L425.86,130.74 L426.29,130.42 L426.62,130.03 L426.86,129.58 L426.98,129.09 L426.99,128.59 L426.88,128.10 L426.67,127.64 L426.35,127.24 L425.94,126.91 L425.46,126.64 L424.92,126.43 L424.34,126.26 L423.75,126.11 L423.17,125.95 L422.63,125.75 L422.13,125.49 L421.71,125.17 L421.38,124.78 L421.14,124.33 L421.02,123.84 L421.01,123.33 L421.12,122.84 L421.33,122.39 L421.65,121.99 L422.06,121.65 L422.55,121.39 L423.09,121.18 L423.67,121.01 L424.25,120.86 L424.83,120.69 L425.38,120.49 L425.87,120.24 L426.29,119.91 L426.63,119.52 L426.86,119.07 L426.98,118.58 L426.99,118.08 L426.88,117.59 L426.66,117.13 L426.34,116.73 L425.93,116.40 L425.45,116.14 L424.90,115.93 L424.33,115.76 L423.74,115.61 L423.16,115.44 L422.62,115.24 L422.12,114.98 L421.70,114.66 L421.37,114.27 L421.14,113.82 L421.02,113.33 L421.01,112.82 L421.12,112.33 L421.34,111.88 L421.66,111.48 L422.07,111.15 L422.56,110.88 L423.10,110.68 L423.68,110.51 L424.27,110.36 L424.84,110.19 L425.39,109.99 L425.88,109.73 L426.30,109.41 L426.63,109.01 L426.86,108.56 L426.98,108.07 L426.99,107.57 L426.88,107.08 L426.66,106.62 L426.33,106.23 L425.92,105.89 L425.43,105.63 L424.89,105.42 L424.32,105.26 L423.73,105.10 L423.15,104.94 L422.60,104.74 L422.11,104.48 L421.69,104.15 L421.36,103.76 L421.14,103.31 L421.02,102.82 L421.01,102.31 L421.12,101.82 L421.35,101.37 L421.67,100.97 L422.08,100.64 L422.57,100.38 L423.11,100.17 L423.69,100.01 L424.28,99.85 L424.86,99.69 L425.40,99.48 L425.89,99.23 L426.31,98.90 L426.64,98.50 L426.87,98.05" fill="none" stroke="#000" stroke-width="2.8" stroke-linecap="round" stroke-linejoin="round"/>
<path d="M424.93,157.76 L424.38,157.93 L423.81,158.07 L423.25,158.23 L422.72,158.41 L422.24,158.65 L421.81,158.94 L421.47,159.30 L421.21,159.71 L421.05,160.17 L421.00,160.65 L421.05,161.13 L421.21,161.59 L421.47,162.00 L421.81,162.36 L422.24,162.65 L422.72,162.89 L423.25,163.07 L423.81,163.23 L424.38,163.37 L424.93,163.54 L425.45,163.74 L425.91,163.99 L426.31,164.30 L426.63,164.68 L426.85,165.11 L426.98,165.58 L426.99,166.06 L426.91,166.54 L426.71,166.98 L426.43,167.38 L426.05,167.71 L425.61,167.99 L425.10,168.20 L424.56,168.38 L424.00,168.53 L423.44,168.67 L422.90,168.85 L422.39,169.06 L421.95,169.34 L421.57,169.67 L421.29,170.07 L421.09,170.51 L421.01,170.99 L421.02,171.47 L421.15,171.94 L421.37,172.37 L421.69,172.75 L422.09,173.06 L422.55,173.31 L423.07,173.51 L423.62,173.68 L424.19,173.82 L424.75,173.98 L425.28,174.16 L425.76,174.40 L426.19,174.69 L426.53,175.05 L426.79,175.46 L426.95,175.92 L427.00,176.40 L426.95,176.88 L426.79,177.34 L426.53,177.75 L426.19,178.11 L425.76,178.40 L425.28,178.64 L424.75,178.82 L424.19,178.98 L423.62,179.12 L423.07,179.29 L422.55,179.49 L422.09,179.74 L421.69,180.05 L421.37,180.43 L421.15,180.86 L421.02,181.33 L421.01,181.81 L421.09,182.29 L421.29,182.73 L421.57,183.13 L421.95,183.46 L422.39,183.74 L422.90,183.95 L423.44,184.13 L424.00,184.28 L424.56,184.42 L425.10,184.60 L425.61,184.81 L426.05,185.09 L426.43,185.42 L426.71,185.82 L426.91,186.26 L426.99,186.74 L426.98,187.22 L426.85,187.69 L426.63,188.12 L426.31,188.50 L425.91,188.81 L425.45,189.06 L424.93,189.26 L424.38,189.43 L423.81,189.57 L423.25,189.73 L422.72,189.91 L422.24,190.15 L421.81,190.44 L421.47,190.80 L421.21,191.21 L421.05,191.67 L421.00,192.15 L421.05,192.63 L421.21,193.09 L421.47,193.50 L421.81,193.86 L422.24,194.15 L422.72,194.39 L423.25,194.57 L423.81,194.73 L424.38,194.87 L424.93,195.04" fill="none" stroke="#000" stroke-width="2.8" stroke-linecap="round" stroke-linejoin="round"/>
<polygon points="407.50,137.70 410.70,134.50 447.70,134.50 444.50,137.70" fill="url(#gtop)" stroke="#666666" stroke-width="1.0" stroke-linejoin="round"/><polygon points="444.50,137.70 447.70,134.50 447.70,154.30 444.50,157.50" fill="#52c565" stroke="#666666" stroke-width="1.0" stroke-linejoin="round"/>
<polygon points="407.50,137.70 444.50,137.70 444.50,157.50 407.50,157.50" fill="url(#gfront)" stroke="#666666" stroke-width="1.0" stroke-linejoin="round"/>
<path d="M478.83,136.94 L478.25,136.77 L477.66,136.61 L477.08,136.45 L476.54,136.25 L476.04,136.00 L475.62,135.67 L475.28,135.28 L475.05,134.84 L474.92,134.35 L474.91,133.85 L475.01,133.35 L475.23,132.90 L475.55,132.49 L475.96,132.16 L476.44,131.89 L476.98,131.68 L477.55,131.52 L478.14,131.36 L478.72,131.20 L479.27,131.00 L479.76,130.74 L480.19,130.42 L480.52,130.03 L480.76,129.58 L480.88,129.09 L480.89,128.59 L480.78,128.10 L480.57,127.64 L480.25,127.24 L479.84,126.91 L479.36,126.64 L478.82,126.43 L478.24,126.26 L477.65,126.11 L477.07,125.95 L476.53,125.75 L476.03,125.49 L475.61,125.17 L475.28,124.78 L475.04,124.33 L474.92,123.84 L474.91,123.33 L475.02,122.84 L475.23,122.39 L475.55,121.99 L475.96,121.65 L476.45,121.39 L476.99,121.18 L477.57,121.01 L478.15,120.86 L478.73,120.69 L479.28,120.49 L479.77,120.24 L480.19,119.91 L480.53,119.52 L480.76,119.07 L480.88,118.58 L480.89,118.08 L480.78,117.59 L480.56,117.13 L480.24,116.73 L479.83,116.40 L479.35,116.14 L478.80,115.93 L478.23,115.76 L477.64,115.61 L477.06,115.44 L476.52,115.24 L476.02,114.98 L475.60,114.66 L475.27,114.27 L475.04,113.82 L474.92,113.33 L474.91,112.82 L475.02,112.33 L475.24,111.88 L475.56,111.48 L475.97,111.15 L476.46,110.88 L477.00,110.68 L477.58,110.51 L478.17,110.36 L478.74,110.19 L479.29,109.99 L479.78,109.73 L480.20,109.41 L480.53,109.01 L480.76,108.56 L480.88,108.07 L480.89,107.57 L480.78,107.08 L480.56,106.62 L480.23,106.23 L479.82,105.89 L479.33,105.63 L478.79,105.42 L478.22,105.26 L477.63,105.10 L477.05,104.94 L476.50,104.74 L476.01,104.48 L475.59,104.15 L475.26,103.76 L475.04,103.31 L474.92,102.82 L474.91,102.31 L475.02,101.82 L475.25,101.37 L475.57,100.97 L475.98,100.64 L476.47,100.38 L477.01,100.17 L477.59,100.01 L478.18,99.85 L478.76,99.69 L479.30,99.48 L479.79,99.23 L480.21,98.90 L480.54,98.50 L480.77,98.05" fill="none" stroke="#000" stroke-width="2.8" stroke-linecap="round" stroke-linejoin="round"/>
<path d="M478.83,157.76 L478.28,157.93 L477.71,158.07 L477.15,158.23 L476.62,158.41 L476.14,158.65 L475.71,158.94 L475.37,159.30 L475.11,159.71 L474.95,160.17 L474.90,160.65 L474.95,161.13 L475.11,161.59 L475.37,162.00 L475.71,162.36 L476.14,162.65 L476.62,162.89 L477.15,163.07 L477.71,163.23 L478.28,163.37 L478.83,163.54 L479.35,163.74 L479.81,163.99 L480.21,164.30 L480.53,164.68 L480.75,165.11 L480.88,165.58 L480.89,166.06 L480.81,166.54 L480.61,166.98 L480.33,167.38 L479.95,167.71 L479.51,167.99 L479.00,168.20 L478.46,168.38 L477.90,168.53 L477.34,168.67 L476.80,168.85 L476.29,169.06 L475.85,169.34 L475.47,169.67 L475.19,170.07 L474.99,170.51 L474.91,170.99 L474.92,171.47 L475.05,171.94 L475.27,172.37 L475.59,172.75 L475.99,173.06 L476.45,173.31 L476.97,173.51 L477.52,173.68 L478.09,173.82 L478.65,173.98 L479.18,174.16 L479.66,174.40 L480.09,174.69 L480.43,175.05 L480.69,175.46 L480.85,175.92 L480.90,176.40 L480.85,176.88 L480.69,177.34 L480.43,177.75 L480.09,178.11 L479.66,178.40 L479.18,178.64 L478.65,178.82 L478.09,178.98 L477.52,179.12 L476.97,179.29 L476.45,179.49 L475.99,179.74 L475.59,180.05 L475.27,180.43 L475.05,180.86 L474.92,181.33 L474.91,181.81 L474.99,182.29 L475.19,182.73 L475.47,183.13 L475.85,183.46 L476.29,183.74 L476.80,183.95 L477.34,184.13 L477.90,184.28 L478.46,184.42 L479.00,184.60 L479.51,184.81 L479.95,185.09 L480.33,185.42 L480.61,185.82 L480.81,186.26 L480.89,186.74 L480.88,187.22 L480.75,187.69 L480.53,188.12 L480.21,188.50 L479.81,188.81 L479.35,189.06 L478.83,189.26 L478.28,189.43 L477.71,189.57 L477.15,189.73 L476.62,189.91 L476.14,190.15 L475.71,190.44 L475.37,190.80 L475.11,191.21 L474.95,191.67 L474.90,192.15 L474.95,192.63 L475.11,193.09 L475.37,193.50 L475.71,193.86 L476.14,194.15 L476.62,194.39 L477.15,194.57 L477.71,194.73 L478.28,194.87 L478.83,195.04" fill="none" stroke="#000" stroke-width="2.8" stroke-linecap="round" stroke-linejoin="round"/>
<polygon points="461.40,137.70 464.60,134.50 502.00,134.50 498.80,137.70" fill="url(#gtop)" stroke="#666666" stroke-width="1.0" stroke-linejoin="round"/><polygon points="498.80,137.70 502.00,134.50 502.00,154.10 498.80,157.30" fill="#52c565" stroke="#666666" stroke-width="1.0" stroke-linejoin="round"/>
<polygon points="461.40,137.70 498.80,137.70 498.80,157.30 461.40,157.30" fill="url(#gfront)" stroke="#666666" stroke-width="1.0" stroke-linejoin="round"/>
<path d="M528.83,136.94 L528.25,136.77 L527.66,136.61 L527.08,136.45 L526.54,136.25 L526.04,136.00 L525.62,135.67 L525.28,135.28 L525.05,134.84 L524.92,134.35 L524.91,133.85 L525.01,133.35 L525.23,132.90 L525.55,132.49 L525.96,132.16 L526.44,131.89 L526.98,131.68 L527.55,131.52 L528.14,131.36 L528.72,131.20 L529.27,131.00 L529.76,130.74 L530.19,130.42 L530.52,130.03 L530.76,129.58 L530.88,129.09 L530.89,128.59 L530.78,128.10 L530.57,127.64 L530.25,127.24 L529.84,126.91 L529.36,126.64 L528.82,126.43 L528.24,126.26 L527.65,126.11 L527.07,125.95 L526.53,125.75 L526.03,125.49 L525.61,125.17 L525.28,124.78 L525.04,124.33 L524.92,123.84 L524.91,123.33 L525.02,122.84 L525.23,122.39 L525.55,121.99 L525.96,121.65 L526.45,121.39 L526.99,121.18 L527.57,121.01 L528.15,120.86 L528.73,120.69 L529.28,120.49 L529.77,120.24 L530.19,119.91 L530.53,119.52 L530.76,119.07 L530.88,118.58 L530.89,118.08 L530.78,117.59 L530.56,117.13 L530.24,116.73 L529.83,116.40 L529.35,116.14 L528.80,115.93 L528.23,115.76 L527.64,115.61 L527.06,115.44 L526.52,115.24 L526.02,114.98 L525.60,114.66 L525.27,114.27 L525.04,113.82 L524.92,113.33 L524.91,112.82 L525.02,112.33 L525.24,111.88 L525.56,111.48 L525.97,111.15 L526.46,110.88 L527.00,110.68 L527.58,110.51 L528.17,110.36 L528.74,110.19 L529.29,109.99 L529.78,109.73 L530.20,109.41 L530.53,109.01 L530.76,108.56 L530.88,108.07 L530.89,107.57 L530.78,107.08 L530.56,106.62 L530.23,106.23 L529.82,105.89 L529.33,105.63 L528.79,105.42 L528.22,105.26 L527.63,105.10 L527.05,104.94 L526.50,104.74 L526.01,104.48 L525.59,104.15 L525.26,103.76 L525.04,103.31 L524.92,102.82 L524.91,102.31 L525.02,101.82 L525.25,101.37 L525.57,100.97 L525.98,100.64 L526.47,100.38 L527.01,100.17 L527.59,100.01 L528.18,99.85 L528.76,99.69 L529.30,99.48 L529.79,99.23 L530.21,98.90 L530.54,98.50 L530.77,98.05" fill="none" stroke="#000" stroke-width="2.8" stroke-linecap="round" stroke-linejoin="round"/>
<path d="M528.83,157.76 L528.28,157.93 L527.71,158.07 L527.15,158.23 L526.62,158.41 L526.14,158.65 L525.71,158.94 L525.37,159.30 L525.11,159.71 L524.95,160.17 L524.90,160.65 L524.95,161.13 L525.11,161.59 L525.37,162.00 L525.71,162.36 L526.14,162.65 L526.62,162.89 L527.15,163.07 L527.71,163.23 L528.28,163.37 L528.83,163.54 L529.35,163.74 L529.81,163.99 L530.21,164.30 L530.53,164.68 L530.75,165.11 L530.88,165.58 L530.89,166.06 L530.81,166.54 L530.61,166.98 L530.33,167.38 L529.95,167.71 L529.51,167.99 L529.00,168.20 L528.46,168.38 L527.90,168.53 L527.34,168.67 L526.80,168.85 L526.29,169.06 L525.85,169.34 L525.47,169.67 L525.19,170.07 L524.99,170.51 L524.91,170.99 L524.92,171.47 L525.05,171.94 L525.27,172.37 L525.59,172.75 L525.99,173.06 L526.45,173.31 L526.97,173.51 L527.52,173.68 L528.09,173.82 L528.65,173.98 L529.18,174.16 L529.66,174.40 L530.09,174.69 L530.43,175.05 L530.69,175.46 L530.85,175.92 L530.90,176.40 L530.85,176.88 L530.69,177.34 L530.43,177.75 L530.09,178.11 L529.66,178.40 L529.18,178.64 L528.65,178.82 L528.09,178.98 L527.52,179.12 L526.97,179.29 L526.45,179.49 L525.99,179.74 L525.59,180.05 L525.27,180.43 L525.05,180.86 L524.92,181.33 L524.91,181.81 L524.99,182.29 L525.19,182.73 L525.47,183.13 L525.85,183.46 L526.29,183.74 L526.80,183.95 L527.34,184.13 L527.90,184.28 L528.46,184.42 L529.00,184.60 L529.51,184.81 L529.95,185.09 L530.33,185.42 L530.61,185.82 L530.81,186.26 L530.89,186.74 L530.88,187.22 L530.75,187.69 L530.53,188.12 L530.21,188.50 L529.81,188.81 L529.35,189.06 L528.83,189.26 L528.28,189.43 L527.71,189.57 L527.15,189.73 L526.62,189.91 L526.14,190.15 L525.71,190.44 L525.37,190.80 L525.11,191.21 L524.95,191.67 L524.90,192.15 L524.95,192.63 L525.11,193.09 L525.37,193.50 L525.71,193.86 L526.14,194.15 L526.62,194.39 L527.15,194.57 L527.71,194.73 L528.28,194.87 L528.83,195.04" fill="none" stroke="#000" stroke-width="2.8" stroke-linecap="round" stroke-linejoin="round"/>
<polygon points="511.40,137.70 514.60,134.50 551.90,134.50 548.70,137.70" fill="url(#gtop)" stroke="#666666" stroke-width="1.0" stroke-linejoin="round"/><polygon points="548.70,137.70 551.90,134.50 551.90,154.70 548.70,157.90" fill="#52c565" stroke="#666666" stroke-width="1.0" stroke-linejoin="round"/>
<polygon points="511.40,137.70 548.70,137.70 548.70,157.90 511.40,157.90" fill="url(#gfront)" stroke="#666666" stroke-width="1.0" stroke-linejoin="round"/>
<line x1="20.2" y1="340.6" x2="573" y2="340.6" stroke="#000" stroke-width="1.9"/>
<path d="M52.63,331.74 L52.06,331.57 L51.48,331.42 L50.90,331.26 L50.36,331.06 L49.86,330.81 L49.44,330.50 L49.10,330.11 L48.86,329.68 L48.73,329.19 L48.71,328.70 L48.80,328.21 L49.00,327.75 L49.30,327.34 L49.69,327.00 L50.16,326.73 L50.69,326.51 L51.25,326.34 L51.83,326.19 L52.41,326.03 L52.96,325.84 L53.46,325.60 L53.90,325.30 L54.25,324.93 L54.51,324.50 L54.66,324.02 L54.70,323.52 L54.62,323.03 L54.44,322.57 L54.15,322.15 L53.77,321.80 L53.32,321.52 L52.80,321.29 L52.24,321.12 L51.66,320.96 L51.08,320.81 L50.52,320.63 L50.01,320.39 L49.56,320.10 L49.20,319.74 L48.92,319.32 L48.76,318.85 L48.70,318.35 L48.76,317.85 L48.92,317.38 L49.20,316.96 L49.56,316.60 L50.01,316.31 L50.52,316.07 L51.08,315.89 L51.66,315.74 L52.24,315.58 L52.80,315.41 L53.32,315.18 L53.77,314.90 L54.15,314.55 L54.44,314.13 L54.62,313.67 L54.70,313.18 L54.66,312.68 L54.51,312.20 L54.25,311.77 L53.90,311.40 L53.46,311.10 L52.96,310.86 L52.41,310.67 L51.83,310.51 L51.25,310.36 L50.69,310.19 L50.16,309.97 L49.69,309.70 L49.30,309.36 L49.00,308.95 L48.80,308.49 L48.71,308.00 L48.73,307.51 L48.86,307.02 L49.10,306.59 L49.44,306.20 L49.86,305.89 L50.36,305.64 L50.90,305.44 L51.48,305.28 L52.06,305.13 L52.63,304.96 L53.16,304.76 L53.64,304.49 L54.05,304.16 L54.36,303.77 L54.58,303.32 L54.69,302.83 L54.68,302.33 L54.57,301.85 L54.34,301.40 L54.02,301.01 L53.61,300.68 L53.12,300.42 L52.58,300.22 L52.01,300.06 L51.43,299.91 L50.86,299.74 L50.32,299.54 L49.83,299.29 L49.41,298.97 L49.08,298.58 L48.85,298.14 L48.72,297.66 L48.71,297.16 L48.81,296.67 L49.02,296.21 L49.33,295.81 L49.73,295.48 L50.20,295.21 L50.73,295.00 L51.30,294.83 L51.88,294.68 L52.45,294.52 L53.00,294.33 L53.50,294.08 L53.93,293.77 L54.28,293.40" fill="none" stroke="#000" stroke-width="2.8" stroke-linecap="round" stroke-linejoin="round"/>
<path d="M52.63,352.46 L52.08,352.62 L51.53,352.77 L50.98,352.92 L50.46,353.10 L49.97,353.33 L49.55,353.61 L49.20,353.96 L48.94,354.36 L48.77,354.80 L48.70,355.27 L48.74,355.75 L48.87,356.20 L49.11,356.62 L49.43,356.99 L49.83,357.29 L50.29,357.53 L50.81,357.73 L51.35,357.88 L51.91,358.03 L52.45,358.18 L52.98,358.36 L53.46,358.59 L53.87,358.88 L54.22,359.23 L54.48,359.63 L54.64,360.08 L54.70,360.55 L54.66,361.03 L54.51,361.48 L54.28,361.90 L53.95,362.26 L53.54,362.56 L53.07,362.80 L52.56,362.99 L52.01,363.14 L51.46,363.29 L50.91,363.44 L50.39,363.63 L49.91,363.86 L49.50,364.15 L49.16,364.50 L48.91,364.91 L48.75,365.36 L48.70,365.83 L48.75,366.31 L48.90,366.76 L49.14,367.17 L49.48,367.53 L49.89,367.82 L50.36,368.06 L50.88,368.25 L51.42,368.40 L51.98,368.55 L52.52,368.70 L53.04,368.89 L53.51,369.13 L53.92,369.42 L54.26,369.78 L54.50,370.19 L54.65,370.64 L54.70,371.12 L54.65,371.59 L54.49,372.04 L54.24,372.45 L53.90,372.80 L53.49,373.09 L53.01,373.32 L52.49,373.51 L51.94,373.66 L51.39,373.81 L50.84,373.96 L50.33,374.15 L49.86,374.39 L49.45,374.69 L49.12,375.05 L48.89,375.47 L48.74,375.92 L48.70,376.40 L48.76,376.87 L48.92,377.32 L49.18,377.72 L49.53,378.07 L49.94,378.36 L50.42,378.59 L50.95,378.77 L51.49,378.92 L52.05,379.07 L52.59,379.22 L53.11,379.42 L53.57,379.66 L53.97,379.96 L54.29,380.33 L54.53,380.75 L54.66,381.20 L54.70,381.68 L54.63,382.15 L54.46,382.59 L54.20,382.99 L53.85,383.34 L53.43,383.62 L52.94,383.85 L52.42,384.03 L51.87,384.18 L51.32,384.33 L50.77,384.49 L50.26,384.68 L49.80,384.93 L49.41,385.24 L49.09,385.60 L48.86,386.02 L48.73,386.48 L48.70,386.96 L48.78,387.43 L48.95,387.87 L49.22,388.27 L49.58,388.61 L50.00,388.89 L50.49,389.11 L51.01,389.29 L51.57,389.44" fill="none" stroke="#000" stroke-width="2.8" stroke-linecap="round" stroke-linejoin="round"/>
<polygon points="34.80,332.60 38.00,329.40 75.60,329.40 72.40,332.60" fill="url(#gtop)" stroke="#666666" stroke-width="1.0" stroke-linejoin="round"/><polygon points="72.40,332.60 75.60,329.40 75.60,349.00 72.40,352.20" fill="#52c565" stroke="#666666" stroke-width="1.0" stroke-linejoin="round"/>
<polygon points="34.80,332.60 72.40,332.60 72.40,352.20 34.80,352.20" fill="url(#gfront)" stroke="#666666" stroke-width="1.0" stroke-linejoin="round"/>
<path d="M107.13,330.54 L106.67,330.35 L106.19,330.19 L105.71,330.02 L105.26,329.82 L104.83,329.59 L104.46,329.30 L104.14,328.96 L103.89,328.56 L103.71,328.12 L103.62,327.65 L103.61,327.16 L103.68,326.69 L103.84,326.24 L104.07,325.83 L104.38,325.48 L104.74,325.18 L105.16,324.93 L105.61,324.73 L106.08,324.55 L106.56,324.39 L107.03,324.21 L107.48,324.00 L107.89,323.75 L108.25,323.45 L108.55,323.09 L108.78,322.68 L108.93,322.23 L109.00,321.75 L108.98,321.27 L108.88,320.80 L108.70,320.36 L108.44,319.97 L108.12,319.63 L107.73,319.34 L107.31,319.11 L106.85,318.92 L106.37,318.75 L105.90,318.58 L105.43,318.40 L104.99,318.18" fill="none" stroke="#f00000" stroke-width="2.4" stroke-linecap="round" stroke-linejoin="round"/><ellipse cx="106.30" cy="314.40" rx="3.30" ry="3.60" fill="none" stroke="#f00000" stroke-width="2.4"/><path d="M107.62,311.26 L108.03,311.05 L108.40,310.79 L108.70,310.48 L108.94,310.12 L109.10,309.73 L109.19,309.31 L109.19,308.88 L109.11,308.46 L108.95,308.06 L108.72,307.70 L108.42,307.39 L108.06,307.12 L107.65,306.91 L107.20,306.74 L106.72,306.59 L106.23,306.46 L105.75,306.33 L105.28,306.18 L104.84,306.00 L104.44,305.77 L104.09,305.49 L103.81,305.17 L103.60,304.80 L103.46,304.39 L103.40,303.97 L103.43,303.54 L103.53,303.12 L103.72,302.74 L103.97,302.39 L104.30,302.09 L104.68,301.85 L105.10,301.65 L105.56,301.49 L106.04,301.35 L106.53,301.22 L107.01,301.08 L107.47,300.93 L107.90,300.73 L108.28,300.48 L108.61,300.19 L108.87,299.85 L109.06,299.46 L109.17,299.05 L109.20,298.62 L109.15,298.20 L109.02,297.79 L108.81,297.42 L108.53,297.09 L108.18,296.81 L107.79,296.58 L107.35,296.39 L106.88,296.24 L106.40,296.11 L105.91,295.98 L105.43,295.83 L104.98,295.66 L104.57,295.45 L104.20,295.19 L103.90,294.88 L103.66,294.52 L103.50,294.13 L103.41,293.71 L103.41,293.28 L103.49,292.86 L103.65,292.46 L103.88,292.10 L104.18,291.79 L104.54,291.52 L104.95,291.31 L105.40,291.14" fill="none" stroke="#f00000" stroke-width="2.4" stroke-linecap="round" stroke-linejoin="round"/>
<path d="M107.13,352.46 L106.70,352.63 L106.26,352.79 L105.82,352.94 L105.40,353.12 L104.99,353.32 L104.62,353.56 L104.30,353.85 L104.03,354.19 L103.82,354.57 L103.68,354.99 L103.61,355.43 L103.61,355.87 L103.68,356.31 L103.82,356.73 L104.03,357.11 L104.30,357.45 L104.62,357.74 L104.99,357.98 L105.40,358.18 L105.82,358.36 L106.26,358.51 L106.70,358.67 L107.13,358.84 L107.54,359.03 L107.92,359.27 L108.25,359.55 L108.53,359.88 L108.75,360.25 L108.90,360.67 L108.98,361.10 L109.00,361.55 L108.94,361.99 L108.80,362.41 L108.61,362.80 L108.35,363.14 L108.03,363.44 L107.67,363.69 L107.27,363.90 L106.85,364.08 L106.41,364.24" fill="none" stroke="#f00000" stroke-width="2.4" stroke-linecap="round" stroke-linejoin="round"/><ellipse cx="106.30" cy="367.60" rx="3.30" ry="3.60" fill="none" stroke="#f00000" stroke-width="2.4"/><path d="M107.62,370.74 L108.04,370.95 L108.41,371.22 L108.71,371.53 L108.95,371.90 L109.11,372.30 L109.19,372.73 L109.19,373.17 L109.10,373.59 L108.93,373.99 L108.68,374.35 L108.36,374.66 L107.98,374.92 L107.56,375.13 L107.10,375.30 L106.61,375.44 L106.11,375.57 L105.63,375.70 L105.16,375.87 L104.72,376.06 L104.33,376.31 L104.00,376.61 L103.73,376.95 L103.54,377.34 L103.43,377.76 L103.40,378.20 L103.46,378.63 L103.60,379.04 L103.82,379.42 L104.11,379.75 L104.46,380.03 L104.87,380.25 L105.32,380.44 L105.80,380.59 L106.29,380.72 L106.79,380.85 L107.27,381.00 L107.72,381.18 L108.13,381.41 L108.48,381.69 L108.78,382.01 L109.00,382.39 L109.14,382.80 L109.20,383.23 L109.17,383.67 L109.06,384.09 L108.87,384.48 L108.61,384.83 L108.28,385.13 L107.89,385.37 L107.45,385.57 L106.98,385.73 L106.50,385.87 L106.00,386.00 L105.51,386.14 L105.05,386.31 L104.62,386.52 L104.25,386.77 L103.93,387.08 L103.68,387.44 L103.51,387.84 L103.41,388.26 L103.41,388.70 L103.48,389.13 L103.64,389.53 L103.88,389.90 L104.19,390.22 L104.56,390.48 L104.97,390.70 L105.43,390.87 L105.92,391.02" fill="none" stroke="#f00000" stroke-width="2.4" stroke-linecap="round" stroke-linejoin="round"/>
<polygon points="89.40,332.60 92.60,329.40 130.20,329.40 127.00,332.60" fill="url(#gtop)" stroke="#666666" stroke-width="1.0" stroke-linejoin="round"/><polygon points="127.00,332.60 130.20,329.40 130.20,349.00 127.00,352.20" fill="#52c565" stroke="#666666" stroke-width="1.0" stroke-linejoin="round"/>
<polygon points="89.40,332.60 127.00,332.60 127.00,352.20 89.40,352.20" fill="url(#gfront)" stroke="#666666" stroke-width="1.0" stroke-linejoin="round"/>
<path d="M160.93,331.74 L160.36,331.57 L159.78,331.42 L159.20,331.26 L158.66,331.06 L158.16,330.81 L157.74,330.50 L157.40,330.11 L157.16,329.68 L157.03,329.19 L157.01,328.70 L157.10,328.21 L157.30,327.75 L157.60,327.34 L157.99,327.00 L158.46,326.73 L158.99,326.51 L159.55,326.34 L160.13,326.19 L160.71,326.03 L161.26,325.84 L161.76,325.60 L162.20,325.30 L162.55,324.93 L162.81,324.50 L162.96,324.02 L163.00,323.52 L162.92,323.03 L162.74,322.57 L162.45,322.15 L162.07,321.80 L161.62,321.52 L161.10,321.29 L160.54,321.12 L159.96,320.96 L159.38,320.81 L158.82,320.63 L158.31,320.39 L157.86,320.10 L157.50,319.74 L157.22,319.32 L157.06,318.85 L157.00,318.35 L157.06,317.85 L157.22,317.38 L157.50,316.96 L157.86,316.60 L158.31,316.31 L158.82,316.07 L159.38,315.89 L159.96,315.74 L160.54,315.58 L161.10,315.41 L161.62,315.18 L162.07,314.90 L162.45,314.55 L162.74,314.13 L162.92,313.67 L163.00,313.18 L162.96,312.68 L162.81,312.20 L162.55,311.77 L162.20,311.40 L161.76,311.10 L161.26,310.86 L160.71,310.67 L160.13,310.51 L159.55,310.36 L158.99,310.19 L158.46,309.97 L157.99,309.70 L157.60,309.36 L157.30,308.95 L157.10,308.49 L157.01,308.00 L157.03,307.51 L157.16,307.02 L157.40,306.59 L157.74,306.20 L158.16,305.89 L158.66,305.64 L159.20,305.44 L159.78,305.28 L160.36,305.13 L160.93,304.96 L161.46,304.76 L161.94,304.49 L162.35,304.16 L162.66,303.77 L162.88,303.32 L162.99,302.83 L162.98,302.33 L162.87,301.85 L162.64,301.40 L162.32,301.01 L161.91,300.68 L161.42,300.42 L160.88,300.22 L160.31,300.06 L159.73,299.91 L159.16,299.74 L158.62,299.54 L158.13,299.29 L157.71,298.97 L157.38,298.58 L157.15,298.14 L157.02,297.66 L157.01,297.16 L157.11,296.67 L157.32,296.21 L157.63,295.81 L158.03,295.48 L158.50,295.21 L159.03,295.00 L159.60,294.83 L160.18,294.68 L160.75,294.52 L161.30,294.33 L161.80,294.08 L162.23,293.77 L162.58,293.40" fill="none" stroke="#000" stroke-width="2.8" stroke-linecap="round" stroke-linejoin="round"/>
<path d="M160.93,352.46 L160.38,352.62 L159.83,352.77 L159.28,352.92 L158.76,353.10 L158.27,353.33 L157.85,353.61 L157.50,353.96 L157.24,354.36 L157.07,354.80 L157.00,355.27 L157.04,355.75 L157.17,356.20 L157.41,356.62 L157.73,356.99 L158.13,357.29 L158.59,357.53 L159.11,357.73 L159.65,357.88 L160.21,358.03 L160.75,358.18 L161.28,358.36 L161.76,358.59 L162.17,358.88 L162.52,359.23 L162.78,359.63 L162.94,360.08 L163.00,360.55 L162.96,361.03 L162.81,361.48 L162.58,361.90 L162.25,362.26 L161.84,362.56 L161.37,362.80 L160.86,362.99 L160.31,363.14 L159.76,363.29 L159.21,363.44 L158.69,363.63 L158.21,363.86 L157.80,364.15 L157.46,364.50 L157.21,364.91 L157.05,365.36 L157.00,365.83 L157.05,366.31 L157.20,366.76 L157.44,367.17 L157.78,367.53 L158.19,367.82 L158.66,368.06 L159.18,368.25 L159.72,368.40 L160.28,368.55 L160.82,368.70 L161.34,368.89 L161.81,369.13 L162.22,369.42 L162.56,369.78 L162.80,370.19 L162.95,370.64 L163.00,371.12 L162.95,371.59 L162.79,372.04 L162.54,372.45 L162.20,372.80 L161.79,373.09 L161.31,373.32 L160.79,373.51 L160.24,373.66 L159.69,373.81 L159.14,373.96 L158.63,374.15 L158.16,374.39 L157.75,374.69 L157.42,375.05 L157.19,375.47 L157.04,375.92 L157.00,376.40 L157.06,376.87 L157.22,377.32 L157.48,377.72 L157.83,378.07 L158.24,378.36 L158.72,378.59 L159.25,378.77 L159.79,378.92 L160.35,379.07 L160.89,379.22 L161.41,379.42 L161.87,379.66 L162.27,379.96 L162.59,380.33 L162.83,380.75 L162.96,381.20 L163.00,381.68 L162.93,382.15 L162.76,382.59 L162.50,382.99 L162.15,383.34 L161.73,383.62 L161.24,383.85 L160.72,384.03 L160.17,384.18 L159.62,384.33 L159.07,384.49 L158.56,384.68 L158.10,384.93 L157.71,385.24 L157.39,385.60 L157.16,386.02 L157.03,386.48 L157.00,386.96 L157.08,387.43 L157.25,387.87 L157.52,388.27 L157.88,388.61 L158.30,388.89 L158.79,389.11 L159.31,389.29 L159.87,389.44" fill="none" stroke="#000" stroke-width="2.8" stroke-linecap="round" stroke-linejoin="round"/>
<polygon points="143.10,332.60 146.30,329.40 183.90,329.40 180.70,332.60" fill="url(#gtop)" stroke="#666666" stroke-width="1.0" stroke-linejoin="round"/><polygon points="180.70,332.60 183.90,329.40 183.90,349.00 180.70,352.20" fill="#52c565" stroke="#666666" stroke-width="1.0" stroke-linejoin="round"/>
<polygon points="143.10,332.60 180.70,332.60 180.70,352.20 143.10,352.20" fill="url(#gfront)" stroke="#666666" stroke-width="1.0" stroke-linejoin="round"/>
<path d="M213.83,331.74 L213.26,331.57 L212.68,331.42 L212.10,331.26 L211.56,331.06 L211.06,330.81 L210.64,330.50 L210.30,330.11 L210.06,329.68 L209.93,329.19 L209.91,328.70 L210.00,328.21 L210.20,327.75 L210.50,327.34 L210.89,327.00 L211.36,326.73 L211.89,326.51 L212.45,326.34 L213.03,326.19 L213.61,326.03 L214.16,325.84 L214.66,325.60 L215.10,325.30 L215.45,324.93 L215.71,324.50 L215.86,324.02 L215.90,323.52 L215.82,323.03 L215.64,322.57 L215.35,322.15 L214.97,321.80 L214.52,321.52 L214.00,321.29 L213.44,321.12 L212.86,320.96 L212.28,320.81 L211.72,320.63 L211.21,320.39 L210.76,320.10 L210.40,319.74 L210.12,319.32 L209.96,318.85 L209.90,318.35 L209.96,317.85 L210.12,317.38 L210.40,316.96 L210.76,316.60 L211.21,316.31 L211.72,316.07 L212.28,315.89 L212.86,315.74 L213.44,315.58 L214.00,315.41 L214.52,315.18 L214.97,314.90 L215.35,314.55 L215.64,314.13 L215.82,313.67 L215.90,313.18 L215.86,312.68 L215.71,312.20 L215.45,311.77 L215.10,311.40 L214.66,311.10 L214.16,310.86 L213.61,310.67 L213.03,310.51 L212.45,310.36 L211.89,310.19 L211.36,309.97 L210.89,309.70 L210.50,309.36 L210.20,308.95 L210.00,308.49 L209.91,308.00 L209.93,307.51 L210.06,307.02 L210.30,306.59 L210.64,306.20 L211.06,305.89 L211.56,305.64 L212.10,305.44 L212.68,305.28 L213.26,305.13 L213.83,304.96 L214.36,304.76 L214.84,304.49 L215.25,304.16 L215.56,303.77 L215.78,303.32 L215.89,302.83 L215.88,302.33 L215.77,301.85 L215.54,301.40 L215.22,301.01 L214.81,300.68 L214.32,300.42 L213.78,300.22 L213.21,300.06 L212.63,299.91 L212.06,299.74 L211.52,299.54 L211.03,299.29 L210.61,298.97 L210.28,298.58 L210.05,298.14 L209.92,297.66 L209.91,297.16 L210.01,296.67 L210.22,296.21 L210.53,295.81 L210.93,295.48 L211.40,295.21 L211.93,295.00 L212.50,294.83 L213.08,294.68 L213.65,294.52 L214.20,294.33 L214.70,294.08 L215.13,293.77 L215.48,293.40" fill="none" stroke="#000" stroke-width="2.8" stroke-linecap="round" stroke-linejoin="round"/>
<path d="M213.83,352.46 L213.28,352.62 L212.73,352.77 L212.18,352.92 L211.66,353.10 L211.17,353.33 L210.75,353.61 L210.40,353.96 L210.14,354.36 L209.97,354.80 L209.90,355.27 L209.94,355.75 L210.07,356.20 L210.31,356.62 L210.63,356.99 L211.03,357.29 L211.49,357.53 L212.01,357.73 L212.55,357.88 L213.11,358.03 L213.65,358.18 L214.18,358.36 L214.66,358.59 L215.07,358.88 L215.42,359.23 L215.68,359.63 L215.84,360.08 L215.90,360.55 L215.86,361.03 L215.71,361.48 L215.48,361.90 L215.15,362.26 L214.74,362.56 L214.27,362.80 L213.76,362.99 L213.21,363.14 L212.66,363.29 L212.11,363.44 L211.59,363.63 L211.11,363.86 L210.70,364.15 L210.36,364.50 L210.11,364.91 L209.95,365.36 L209.90,365.83 L209.95,366.31 L210.10,366.76 L210.34,367.17 L210.68,367.53 L211.09,367.82 L211.56,368.06 L212.08,368.25 L212.62,368.40 L213.18,368.55 L213.72,368.70 L214.24,368.89 L214.71,369.13 L215.12,369.42 L215.46,369.78 L215.70,370.19 L215.85,370.64 L215.90,371.12 L215.85,371.59 L215.69,372.04 L215.44,372.45 L215.10,372.80 L214.69,373.09 L214.21,373.32 L213.69,373.51 L213.14,373.66 L212.59,373.81 L212.04,373.96 L211.53,374.15 L211.06,374.39 L210.65,374.69 L210.32,375.05 L210.09,375.47 L209.94,375.92 L209.90,376.40 L209.96,376.87 L210.12,377.32 L210.38,377.72 L210.73,378.07 L211.14,378.36 L211.62,378.59 L212.15,378.77 L212.69,378.92 L213.25,379.07 L213.79,379.22 L214.31,379.42 L214.77,379.66 L215.17,379.96 L215.49,380.33 L215.73,380.75 L215.86,381.20 L215.90,381.68 L215.83,382.15 L215.66,382.59 L215.40,382.99 L215.05,383.34 L214.63,383.62 L214.14,383.85 L213.62,384.03 L213.07,384.18 L212.52,384.33 L211.97,384.49 L211.46,384.68 L211.00,384.93 L210.61,385.24 L210.29,385.60 L210.06,386.02 L209.93,386.48 L209.90,386.96 L209.98,387.43 L210.15,387.87 L210.42,388.27 L210.78,388.61 L211.20,388.89 L211.69,389.11 L212.21,389.29 L212.77,389.44" fill="none" stroke="#000" stroke-width="2.8" stroke-linecap="round" stroke-linejoin="round"/>
<polygon points="196.00,332.60 199.20,329.40 236.80,329.40 233.60,332.60" fill="url(#gtop)" stroke="#666666" stroke-width="1.0" stroke-linejoin="round"/><polygon points="233.60,332.60 236.80,329.40 236.80,349.00 233.60,352.20" fill="#52c565" stroke="#666666" stroke-width="1.0" stroke-linejoin="round"/>
<polygon points="196.00,332.60 233.60,332.60 233.60,352.20 196.00,352.20" fill="url(#gfront)" stroke="#666666" stroke-width="1.0" stroke-linejoin="round"/>
<path d="M267.53,330.54 L267.07,330.35 L266.59,330.19 L266.11,330.02 L265.66,329.82 L265.23,329.59 L264.86,329.30 L264.54,328.96 L264.29,328.56 L264.11,328.12 L264.02,327.65 L264.01,327.16 L264.08,326.69 L264.24,326.24 L264.47,325.83 L264.78,325.48 L265.14,325.18 L265.56,324.93 L266.01,324.73 L266.48,324.55 L266.96,324.39 L267.43,324.21 L267.88,324.00 L268.29,323.75 L268.65,323.45 L268.95,323.09 L269.18,322.68 L269.33,322.23 L269.40,321.75 L269.38,321.27 L269.28,320.80 L269.10,320.36 L268.84,319.97 L268.52,319.63 L268.13,319.34 L267.71,319.11 L267.25,318.92 L266.77,318.75 L266.30,318.58 L265.83,318.40 L265.39,318.18" fill="none" stroke="#f00000" stroke-width="2.4" stroke-linecap="round" stroke-linejoin="round"/><ellipse cx="266.70" cy="314.40" rx="3.30" ry="3.60" fill="none" stroke="#f00000" stroke-width="2.4"/><path d="M268.02,311.26 L268.43,311.05 L268.80,310.79 L269.10,310.48 L269.34,310.12 L269.50,309.73 L269.59,309.31 L269.59,308.88 L269.51,308.46 L269.35,308.06 L269.12,307.70 L268.82,307.39 L268.46,307.12 L268.05,306.91 L267.60,306.74 L267.12,306.59 L266.63,306.46 L266.15,306.33 L265.68,306.18 L265.24,306.00 L264.84,305.77 L264.49,305.49 L264.21,305.17 L264.00,304.80 L263.86,304.39 L263.80,303.97 L263.83,303.54 L263.93,303.12 L264.12,302.74 L264.37,302.39 L264.70,302.09 L265.08,301.85 L265.50,301.65 L265.96,301.49 L266.44,301.35 L266.93,301.22 L267.41,301.08 L267.87,300.93 L268.30,300.73 L268.68,300.48 L269.01,300.19 L269.27,299.85 L269.46,299.46 L269.57,299.05 L269.60,298.62 L269.55,298.20 L269.42,297.79 L269.21,297.42 L268.93,297.09 L268.58,296.81 L268.19,296.58 L267.75,296.39 L267.28,296.24 L266.80,296.11 L266.31,295.98 L265.83,295.83 L265.38,295.66 L264.97,295.45 L264.60,295.19 L264.30,294.88 L264.06,294.52 L263.90,294.13 L263.81,293.71 L263.81,293.28 L263.89,292.86 L264.05,292.46 L264.28,292.10 L264.58,291.79 L264.94,291.52 L265.35,291.31 L265.80,291.14" fill="none" stroke="#f00000" stroke-width="2.4" stroke-linecap="round" stroke-linejoin="round"/>
<path d="M267.53,352.46 L267.10,352.63 L266.66,352.79 L266.22,352.94 L265.80,353.12 L265.39,353.32 L265.02,353.56 L264.70,353.85 L264.43,354.19 L264.22,354.57 L264.08,354.99 L264.01,355.43 L264.01,355.87 L264.08,356.31 L264.22,356.73 L264.43,357.11 L264.70,357.45 L265.02,357.74 L265.39,357.98 L265.80,358.18 L266.22,358.36 L266.66,358.51 L267.10,358.67 L267.53,358.84 L267.94,359.03 L268.32,359.27 L268.65,359.55 L268.93,359.88 L269.15,360.25 L269.30,360.67 L269.38,361.10 L269.40,361.55 L269.34,361.99 L269.20,362.41 L269.01,362.80 L268.75,363.14 L268.43,363.44 L268.07,363.69 L267.67,363.90 L267.25,364.08 L266.81,364.24" fill="none" stroke="#f00000" stroke-width="2.4" stroke-linecap="round" stroke-linejoin="round"/><ellipse cx="266.70" cy="367.60" rx="3.30" ry="3.60" fill="none" stroke="#f00000" stroke-width="2.4"/><path d="M268.02,370.74 L268.44,370.95 L268.81,371.22 L269.11,371.53 L269.35,371.90 L269.51,372.30 L269.59,372.73 L269.59,373.17 L269.50,373.59 L269.33,373.99 L269.08,374.35 L268.76,374.66 L268.38,374.92 L267.96,375.13 L267.50,375.30 L267.01,375.44 L266.51,375.57 L266.03,375.70 L265.56,375.87 L265.12,376.06 L264.73,376.31 L264.40,376.61 L264.13,376.95 L263.94,377.34 L263.83,377.76 L263.80,378.20 L263.86,378.63 L264.00,379.04 L264.22,379.42 L264.51,379.75 L264.86,380.03 L265.27,380.25 L265.72,380.44 L266.20,380.59 L266.69,380.72 L267.19,380.85 L267.67,381.00 L268.12,381.18 L268.53,381.41 L268.88,381.69 L269.18,382.01 L269.40,382.39 L269.54,382.80 L269.60,383.23 L269.57,383.67 L269.46,384.09 L269.27,384.48 L269.01,384.83 L268.68,385.13 L268.29,385.37 L267.85,385.57 L267.38,385.73 L266.90,385.87 L266.40,386.00 L265.91,386.14 L265.45,386.31 L265.02,386.52 L264.65,386.77 L264.33,387.08 L264.08,387.44 L263.91,387.84 L263.81,388.26 L263.81,388.70 L263.88,389.13 L264.04,389.53 L264.28,389.90 L264.59,390.22 L264.96,390.48 L265.37,390.70 L265.83,390.87 L266.32,391.02" fill="none" stroke="#f00000" stroke-width="2.4" stroke-linecap="round" stroke-linejoin="round"/>
<polygon points="249.80,332.60 253.00,329.40 290.60,329.40 287.40,332.60" fill="url(#gtop)" stroke="#666666" stroke-width="1.0" stroke-linejoin="round"/><polygon points="287.40,332.60 290.60,329.40 290.60,349.00 287.40,352.20" fill="#52c565" stroke="#666666" stroke-width="1.0" stroke-linejoin="round"/>
<polygon points="249.80,332.60 287.40,332.60 287.40,352.20 249.80,352.20" fill="url(#gfront)" stroke="#666666" stroke-width="1.0" stroke-linejoin="round"/>
<path d="M320.73,330.54 L320.27,330.35 L319.79,330.19 L319.31,330.02 L318.86,329.82 L318.43,329.59 L318.06,329.30 L317.74,328.96 L317.49,328.56 L317.31,328.12 L317.22,327.65 L317.21,327.16 L317.28,326.69 L317.44,326.24 L317.67,325.83 L317.98,325.48 L318.34,325.18 L318.76,324.93 L319.21,324.73 L319.68,324.55 L320.16,324.39 L320.63,324.21 L321.08,324.00 L321.49,323.75 L321.85,323.45 L322.15,323.09 L322.38,322.68 L322.53,322.23 L322.60,321.75 L322.58,321.27 L322.48,320.80 L322.30,320.36 L322.04,319.97 L321.72,319.63 L321.33,319.34 L320.91,319.11 L320.45,318.92 L319.97,318.75 L319.50,318.58 L319.03,318.40 L318.59,318.18" fill="none" stroke="#f00000" stroke-width="2.4" stroke-linecap="round" stroke-linejoin="round"/><ellipse cx="319.90" cy="314.40" rx="3.30" ry="3.60" fill="none" stroke="#f00000" stroke-width="2.4"/><path d="M321.22,311.26 L321.63,311.05 L322.00,310.79 L322.30,310.48 L322.54,310.12 L322.70,309.73 L322.79,309.31 L322.79,308.88 L322.71,308.46 L322.55,308.06 L322.32,307.70 L322.02,307.39 L321.66,307.12 L321.25,306.91 L320.80,306.74 L320.32,306.59 L319.83,306.46 L319.35,306.33 L318.88,306.18 L318.44,306.00 L318.04,305.77 L317.69,305.49 L317.41,305.17 L317.20,304.80 L317.06,304.39 L317.00,303.97 L317.03,303.54 L317.13,303.12 L317.32,302.74 L317.57,302.39 L317.90,302.09 L318.28,301.85 L318.70,301.65 L319.16,301.49 L319.64,301.35 L320.13,301.22 L320.61,301.08 L321.07,300.93 L321.50,300.73 L321.88,300.48 L322.21,300.19 L322.47,299.85 L322.66,299.46 L322.77,299.05 L322.80,298.62 L322.75,298.20 L322.62,297.79 L322.41,297.42 L322.13,297.09 L321.78,296.81 L321.39,296.58 L320.95,296.39 L320.48,296.24 L320.00,296.11 L319.51,295.98 L319.03,295.83 L318.58,295.66 L318.17,295.45 L317.80,295.19 L317.50,294.88 L317.26,294.52 L317.10,294.13 L317.01,293.71 L317.01,293.28 L317.09,292.86 L317.25,292.46 L317.48,292.10 L317.78,291.79 L318.14,291.52 L318.55,291.31 L319.00,291.14" fill="none" stroke="#f00000" stroke-width="2.4" stroke-linecap="round" stroke-linejoin="round"/>
<path d="M320.73,352.46 L320.30,352.63 L319.86,352.79 L319.42,352.94 L319.00,353.12 L318.59,353.32 L318.22,353.56 L317.90,353.85 L317.63,354.19 L317.42,354.57 L317.28,354.99 L317.21,355.43 L317.21,355.87 L317.28,356.31 L317.42,356.73 L317.63,357.11 L317.90,357.45 L318.22,357.74 L318.59,357.98 L319.00,358.18 L319.42,358.36 L319.86,358.51 L320.30,358.67 L320.73,358.84 L321.14,359.03 L321.52,359.27 L321.85,359.55 L322.13,359.88 L322.35,360.25 L322.50,360.67 L322.58,361.10 L322.60,361.55 L322.54,361.99 L322.40,362.41 L322.21,362.80 L321.95,363.14 L321.63,363.44 L321.27,363.69 L320.87,363.90 L320.45,364.08 L320.01,364.24" fill="none" stroke="#f00000" stroke-width="2.4" stroke-linecap="round" stroke-linejoin="round"/><ellipse cx="319.90" cy="367.60" rx="3.30" ry="3.60" fill="none" stroke="#f00000" stroke-width="2.4"/><path d="M321.22,370.74 L321.64,370.95 L322.01,371.22 L322.31,371.53 L322.55,371.90 L322.71,372.30 L322.79,372.73 L322.79,373.17 L322.70,373.59 L322.53,373.99 L322.28,374.35 L321.96,374.66 L321.58,374.92 L321.16,375.13 L320.70,375.30 L320.21,375.44 L319.71,375.57 L319.23,375.70 L318.76,375.87 L318.32,376.06 L317.93,376.31 L317.60,376.61 L317.33,376.95 L317.14,377.34 L317.03,377.76 L317.00,378.20 L317.06,378.63 L317.20,379.04 L317.42,379.42 L317.71,379.75 L318.06,380.03 L318.47,380.25 L318.92,380.44 L319.40,380.59 L319.89,380.72 L320.39,380.85 L320.87,381.00 L321.32,381.18 L321.73,381.41 L322.08,381.69 L322.38,382.01 L322.60,382.39 L322.74,382.80 L322.80,383.23 L322.77,383.67 L322.66,384.09 L322.47,384.48 L322.21,384.83 L321.88,385.13 L321.49,385.37 L321.05,385.57 L320.58,385.73 L320.10,385.87 L319.60,386.00 L319.11,386.14 L318.65,386.31 L318.22,386.52 L317.85,386.77 L317.53,387.08 L317.28,387.44 L317.11,387.84 L317.01,388.26 L317.01,388.70 L317.08,389.13 L317.24,389.53 L317.48,389.90 L317.79,390.22 L318.16,390.48 L318.57,390.70 L319.03,390.87 L319.52,391.02" fill="none" stroke="#f00000" stroke-width="2.4" stroke-linecap="round" stroke-linejoin="round"/>
<polygon points="303.00,332.60 306.20,329.40 343.80,329.40 340.60,332.60" fill="url(#gtop)" stroke="#666666" stroke-width="1.0" stroke-linejoin="round"/><polygon points="340.60,332.60 343.80,329.40 343.80,349.00 340.60,352.20" fill="#52c565" stroke="#666666" stroke-width="1.0" stroke-linejoin="round"/>
<polygon points="303.00,332.60 340.60,332.60 340.60,352.20 303.00,352.20" fill="url(#gfront)" stroke="#666666" stroke-width="1.0" stroke-linejoin="round"/>
<path d="M373.73,331.74 L373.16,331.57 L372.58,331.42 L372.00,331.26 L371.46,331.06 L370.96,330.81 L370.54,330.50 L370.20,330.11 L369.96,329.68 L369.83,329.19 L369.81,328.70 L369.90,328.21 L370.10,327.75 L370.40,327.34 L370.79,327.00 L371.26,326.73 L371.79,326.51 L372.35,326.34 L372.93,326.19 L373.51,326.03 L374.06,325.84 L374.56,325.60 L375.00,325.30 L375.35,324.93 L375.61,324.50 L375.76,324.02 L375.80,323.52 L375.72,323.03 L375.54,322.57 L375.25,322.15 L374.87,321.80 L374.42,321.52 L373.90,321.29 L373.34,321.12 L372.76,320.96 L372.18,320.81 L371.62,320.63 L371.11,320.39 L370.66,320.10 L370.30,319.74 L370.02,319.32 L369.86,318.85 L369.80,318.35 L369.86,317.85 L370.02,317.38 L370.30,316.96 L370.66,316.60 L371.11,316.31 L371.62,316.07 L372.18,315.89 L372.76,315.74 L373.34,315.58 L373.90,315.41 L374.42,315.18 L374.87,314.90 L375.25,314.55 L375.54,314.13 L375.72,313.67 L375.80,313.18 L375.76,312.68 L375.61,312.20 L375.35,311.77 L375.00,311.40 L374.56,311.10 L374.06,310.86 L373.51,310.67 L372.93,310.51 L372.35,310.36 L371.79,310.19 L371.26,309.97 L370.79,309.70 L370.40,309.36 L370.10,308.95 L369.90,308.49 L369.81,308.00 L369.83,307.51 L369.96,307.02 L370.20,306.59 L370.54,306.20 L370.96,305.89 L371.46,305.64 L372.00,305.44 L372.58,305.28 L373.16,305.13 L373.73,304.96 L374.26,304.76 L374.74,304.49 L375.15,304.16 L375.46,303.77 L375.68,303.32 L375.79,302.83 L375.78,302.33 L375.67,301.85 L375.44,301.40 L375.12,301.01 L374.71,300.68 L374.22,300.42 L373.68,300.22 L373.11,300.06 L372.53,299.91 L371.96,299.74 L371.42,299.54 L370.93,299.29 L370.51,298.97 L370.18,298.58 L369.95,298.14 L369.82,297.66 L369.81,297.16 L369.91,296.67 L370.12,296.21 L370.43,295.81 L370.83,295.48 L371.30,295.21 L371.83,295.00 L372.40,294.83 L372.98,294.68 L373.55,294.52 L374.10,294.33 L374.60,294.08 L375.03,293.77 L375.38,293.40" fill="none" stroke="#000" stroke-width="2.8" stroke-linecap="round" stroke-linejoin="round"/>
<path d="M373.73,352.46 L373.18,352.62 L372.63,352.77 L372.08,352.92 L371.56,353.10 L371.07,353.33 L370.65,353.61 L370.30,353.96 L370.04,354.36 L369.87,354.80 L369.80,355.27 L369.84,355.75 L369.97,356.20 L370.21,356.62 L370.53,356.99 L370.93,357.29 L371.39,357.53 L371.91,357.73 L372.45,357.88 L373.01,358.03 L373.55,358.18 L374.08,358.36 L374.56,358.59 L374.97,358.88 L375.32,359.23 L375.58,359.63 L375.74,360.08 L375.80,360.55 L375.76,361.03 L375.61,361.48 L375.38,361.90 L375.05,362.26 L374.64,362.56 L374.17,362.80 L373.66,362.99 L373.11,363.14 L372.56,363.29 L372.01,363.44 L371.49,363.63 L371.01,363.86 L370.60,364.15 L370.26,364.50 L370.01,364.91 L369.85,365.36 L369.80,365.83 L369.85,366.31 L370.00,366.76 L370.24,367.17 L370.58,367.53 L370.99,367.82 L371.46,368.06 L371.98,368.25 L372.52,368.40 L373.08,368.55 L373.62,368.70 L374.14,368.89 L374.61,369.13 L375.02,369.42 L375.36,369.78 L375.60,370.19 L375.75,370.64 L375.80,371.12 L375.75,371.59 L375.59,372.04 L375.34,372.45 L375.00,372.80 L374.59,373.09 L374.11,373.32 L373.59,373.51 L373.04,373.66 L372.49,373.81 L371.94,373.96 L371.43,374.15 L370.96,374.39 L370.55,374.69 L370.22,375.05 L369.99,375.47 L369.84,375.92 L369.80,376.40 L369.86,376.87 L370.02,377.32 L370.28,377.72 L370.63,378.07 L371.04,378.36 L371.52,378.59 L372.05,378.77 L372.59,378.92 L373.15,379.07 L373.69,379.22 L374.21,379.42 L374.67,379.66 L375.07,379.96 L375.39,380.33 L375.63,380.75 L375.76,381.20 L375.80,381.68 L375.73,382.15 L375.56,382.59 L375.30,382.99 L374.95,383.34 L374.53,383.62 L374.04,383.85 L373.52,384.03 L372.97,384.18 L372.42,384.33 L371.87,384.49 L371.36,384.68 L370.90,384.93 L370.51,385.24 L370.19,385.60 L369.96,386.02 L369.83,386.48 L369.80,386.96 L369.88,387.43 L370.05,387.87 L370.32,388.27 L370.68,388.61 L371.10,388.89 L371.59,389.11 L372.11,389.29 L372.67,389.44" fill="none" stroke="#000" stroke-width="2.8" stroke-linecap="round" stroke-linejoin="round"/>
<polygon points="355.90,332.60 359.10,329.40 396.70,329.40 393.50,332.60" fill="url(#gtop)" stroke="#666666" stroke-width="1.0" stroke-linejoin="round"/><polygon points="393.50,332.60 396.70,329.40 396.70,349.00 393.50,352.20" fill="#52c565" stroke="#666666" stroke-width="1.0" stroke-linejoin="round"/>
<polygon points="355.90,332.60 393.50,332.60 393.50,352.20 355.90,352.20" fill="url(#gfront)" stroke="#666666" stroke-width="1.0" stroke-linejoin="round"/>
<path d="M426.63,331.74 L426.06,331.57 L425.48,331.42 L424.90,331.26 L424.36,331.06 L423.86,330.81 L423.44,330.50 L423.10,330.11 L422.86,329.68 L422.73,329.19 L422.71,328.70 L422.80,328.21 L423.00,327.75 L423.30,327.34 L423.69,327.00 L424.16,326.73 L424.69,326.51 L425.25,326.34 L425.83,326.19 L426.41,326.03 L426.96,325.84 L427.46,325.60 L427.90,325.30 L428.25,324.93 L428.51,324.50 L428.66,324.02 L428.70,323.52 L428.62,323.03 L428.44,322.57 L428.15,322.15 L427.77,321.80 L427.32,321.52 L426.80,321.29 L426.24,321.12 L425.66,320.96 L425.08,320.81 L424.52,320.63 L424.01,320.39 L423.56,320.10 L423.20,319.74 L422.92,319.32 L422.76,318.85 L422.70,318.35 L422.76,317.85 L422.92,317.38 L423.20,316.96 L423.56,316.60 L424.01,316.31 L424.52,316.07 L425.08,315.89 L425.66,315.74 L426.24,315.58 L426.80,315.41 L427.32,315.18 L427.77,314.90 L428.15,314.55 L428.44,314.13 L428.62,313.67 L428.70,313.18 L428.66,312.68 L428.51,312.20 L428.25,311.77 L427.90,311.40 L427.46,311.10 L426.96,310.86 L426.41,310.67 L425.83,310.51 L425.25,310.36 L424.69,310.19 L424.16,309.97 L423.69,309.70 L423.30,309.36 L423.00,308.95 L422.80,308.49 L422.71,308.00 L422.73,307.51 L422.86,307.02 L423.10,306.59 L423.44,306.20 L423.86,305.89 L424.36,305.64 L424.90,305.44 L425.48,305.28 L426.06,305.13 L426.63,304.96 L427.16,304.76 L427.64,304.49 L428.05,304.16 L428.36,303.77 L428.58,303.32 L428.69,302.83 L428.68,302.33 L428.57,301.85 L428.34,301.40 L428.02,301.01 L427.61,300.68 L427.12,300.42 L426.58,300.22 L426.01,300.06 L425.43,299.91 L424.86,299.74 L424.32,299.54 L423.83,299.29 L423.41,298.97 L423.08,298.58 L422.85,298.14 L422.72,297.66 L422.71,297.16 L422.81,296.67 L423.02,296.21 L423.33,295.81 L423.73,295.48 L424.20,295.21 L424.73,295.00 L425.30,294.83 L425.88,294.68 L426.45,294.52 L427.00,294.33 L427.50,294.08 L427.93,293.77 L428.28,293.40" fill="none" stroke="#000" stroke-width="2.8" stroke-linecap="round" stroke-linejoin="round"/>
<path d="M426.63,352.46 L426.08,352.62 L425.53,352.77 L424.98,352.92 L424.46,353.10 L423.97,353.33 L423.55,353.61 L423.20,353.96 L422.94,354.36 L422.77,354.80 L422.70,355.27 L422.74,355.75 L422.87,356.20 L423.11,356.62 L423.43,356.99 L423.83,357.29 L424.29,357.53 L424.81,357.73 L425.35,357.88 L425.91,358.03 L426.45,358.18 L426.98,358.36 L427.46,358.59 L427.87,358.88 L428.22,359.23 L428.48,359.63 L428.64,360.08 L428.70,360.55 L428.66,361.03 L428.51,361.48 L428.28,361.90 L427.95,362.26 L427.54,362.56 L427.07,362.80 L426.56,362.99 L426.01,363.14 L425.46,363.29 L424.91,363.44 L424.39,363.63 L423.91,363.86 L423.50,364.15 L423.16,364.50 L422.91,364.91 L422.75,365.36 L422.70,365.83 L422.75,366.31 L422.90,366.76 L423.14,367.17 L423.48,367.53 L423.89,367.82 L424.36,368.06 L424.88,368.25 L425.42,368.40 L425.98,368.55 L426.52,368.70 L427.04,368.89 L427.51,369.13 L427.92,369.42 L428.26,369.78 L428.50,370.19 L428.65,370.64 L428.70,371.12 L428.65,371.59 L428.49,372.04 L428.24,372.45 L427.90,372.80 L427.49,373.09 L427.01,373.32 L426.49,373.51 L425.94,373.66 L425.39,373.81 L424.84,373.96 L424.33,374.15 L423.86,374.39 L423.45,374.69 L423.12,375.05 L422.89,375.47 L422.74,375.92 L422.70,376.40 L422.76,376.87 L422.92,377.32 L423.18,377.72 L423.53,378.07 L423.94,378.36 L424.42,378.59 L424.95,378.77 L425.49,378.92 L426.05,379.07 L426.59,379.22 L427.11,379.42 L427.57,379.66 L427.97,379.96 L428.29,380.33 L428.53,380.75 L428.66,381.20 L428.70,381.68 L428.63,382.15 L428.46,382.59 L428.20,382.99 L427.85,383.34 L427.43,383.62 L426.94,383.85 L426.42,384.03 L425.87,384.18 L425.32,384.33 L424.77,384.49 L424.26,384.68 L423.80,384.93 L423.41,385.24 L423.09,385.60 L422.86,386.02 L422.73,386.48 L422.70,386.96 L422.78,387.43 L422.95,387.87 L423.22,388.27 L423.58,388.61 L424.00,388.89 L424.49,389.11 L425.01,389.29 L425.57,389.44" fill="none" stroke="#000" stroke-width="2.8" stroke-linecap="round" stroke-linejoin="round"/>
<polygon points="408.80,332.60 412.00,329.40 449.60,329.40 446.40,332.60" fill="url(#gtop)" stroke="#666666" stroke-width="1.0" stroke-linejoin="round"/><polygon points="446.40,332.60 449.60,329.40 449.60,349.00 446.40,352.20" fill="#52c565" stroke="#666666" stroke-width="1.0" stroke-linejoin="round"/>
<polygon points="408.80,332.60 446.40,332.60 446.40,352.20 408.80,352.20" fill="url(#gfront)" stroke="#666666" stroke-width="1.0" stroke-linejoin="round"/>
<path d="M480.03,330.54 L479.57,330.35 L479.09,330.19 L478.61,330.02 L478.16,329.82 L477.73,329.59 L477.36,329.30 L477.04,328.96 L476.79,328.56 L476.61,328.12 L476.52,327.65 L476.51,327.16 L476.58,326.69 L476.74,326.24 L476.97,325.83 L477.28,325.48 L477.64,325.18 L478.06,324.93 L478.51,324.73 L478.98,324.55 L479.46,324.39 L479.93,324.21 L480.38,324.00 L480.79,323.75 L481.15,323.45 L481.45,323.09 L481.68,322.68 L481.83,322.23 L481.90,321.75 L481.88,321.27 L481.78,320.80 L481.60,320.36 L481.34,319.97 L481.02,319.63 L480.63,319.34 L480.21,319.11 L479.75,318.92 L479.27,318.75 L478.80,318.58 L478.33,318.40 L477.89,318.18" fill="none" stroke="#f00000" stroke-width="2.4" stroke-linecap="round" stroke-linejoin="round"/><ellipse cx="479.20" cy="314.40" rx="3.30" ry="3.60" fill="none" stroke="#f00000" stroke-width="2.4"/><path d="M480.52,311.26 L480.93,311.05 L481.30,310.79 L481.60,310.48 L481.84,310.12 L482.00,309.73 L482.09,309.31 L482.09,308.88 L482.01,308.46 L481.85,308.06 L481.62,307.70 L481.32,307.39 L480.96,307.12 L480.55,306.91 L480.10,306.74 L479.62,306.59 L479.13,306.46 L478.65,306.33 L478.18,306.18 L477.74,306.00 L477.34,305.77 L476.99,305.49 L476.71,305.17 L476.50,304.80 L476.36,304.39 L476.30,303.97 L476.33,303.54 L476.43,303.12 L476.62,302.74 L476.87,302.39 L477.20,302.09 L477.58,301.85 L478.00,301.65 L478.46,301.49 L478.94,301.35 L479.43,301.22 L479.91,301.08 L480.37,300.93 L480.80,300.73 L481.18,300.48 L481.51,300.19 L481.77,299.85 L481.96,299.46 L482.07,299.05 L482.10,298.62 L482.05,298.20 L481.92,297.79 L481.71,297.42 L481.43,297.09 L481.08,296.81 L480.69,296.58 L480.25,296.39 L479.78,296.24 L479.30,296.11 L478.81,295.98 L478.33,295.83 L477.88,295.66 L477.47,295.45 L477.10,295.19 L476.80,294.88 L476.56,294.52 L476.40,294.13 L476.31,293.71 L476.31,293.28 L476.39,292.86 L476.55,292.46 L476.78,292.10 L477.08,291.79 L477.44,291.52 L477.85,291.31 L478.30,291.14" fill="none" stroke="#f00000" stroke-width="2.4" stroke-linecap="round" stroke-linejoin="round"/>
<path d="M480.03,352.46 L479.60,352.63 L479.16,352.79 L478.72,352.94 L478.30,353.12 L477.89,353.32 L477.52,353.56 L477.20,353.85 L476.93,354.19 L476.72,354.57 L476.58,354.99 L476.51,355.43 L476.51,355.87 L476.58,356.31 L476.72,356.73 L476.93,357.11 L477.20,357.45 L477.52,357.74 L477.89,357.98 L478.30,358.18 L478.72,358.36 L479.16,358.51 L479.60,358.67 L480.03,358.84 L480.44,359.03 L480.82,359.27 L481.15,359.55 L481.43,359.88 L481.65,360.25 L481.80,360.67 L481.88,361.10 L481.90,361.55 L481.84,361.99 L481.70,362.41 L481.51,362.80 L481.25,363.14 L480.93,363.44 L480.57,363.69 L480.17,363.90 L479.75,364.08 L479.31,364.24" fill="none" stroke="#f00000" stroke-width="2.4" stroke-linecap="round" stroke-linejoin="round"/><ellipse cx="479.20" cy="367.60" rx="3.30" ry="3.60" fill="none" stroke="#f00000" stroke-width="2.4"/><path d="M480.52,370.74 L480.94,370.95 L481.31,371.22 L481.61,371.53 L481.85,371.90 L482.01,372.30 L482.09,372.73 L482.09,373.17 L482.00,373.59 L481.83,373.99 L481.58,374.35 L481.26,374.66 L480.88,374.92 L480.46,375.13 L480.00,375.30 L479.51,375.44 L479.01,375.57 L478.53,375.70 L478.06,375.87 L477.62,376.06 L477.23,376.31 L476.90,376.61 L476.63,376.95 L476.44,377.34 L476.33,377.76 L476.30,378.20 L476.36,378.63 L476.50,379.04 L476.72,379.42 L477.01,379.75 L477.36,380.03 L477.77,380.25 L478.22,380.44 L478.70,380.59 L479.19,380.72 L479.69,380.85 L480.17,381.00 L480.62,381.18 L481.03,381.41 L481.38,381.69 L481.68,382.01 L481.90,382.39 L482.04,382.80 L482.10,383.23 L482.07,383.67 L481.96,384.09 L481.77,384.48 L481.51,384.83 L481.18,385.13 L480.79,385.37 L480.35,385.57 L479.88,385.73 L479.40,385.87 L478.90,386.00 L478.41,386.14 L477.95,386.31 L477.52,386.52 L477.15,386.77 L476.83,387.08 L476.58,387.44 L476.41,387.84 L476.31,388.26 L476.31,388.70 L476.38,389.13 L476.54,389.53 L476.78,389.90 L477.09,390.22 L477.46,390.48 L477.87,390.70 L478.33,390.87 L478.82,391.02" fill="none" stroke="#f00000" stroke-width="2.4" stroke-linecap="round" stroke-linejoin="round"/>
<polygon points="462.30,332.60 465.50,329.40 503.10,329.40 499.90,332.60" fill="url(#gtop)" stroke="#666666" stroke-width="1.0" stroke-linejoin="round"/><polygon points="499.90,332.60 503.10,329.40 503.10,349.00 499.90,352.20" fill="#52c565" stroke="#666666" stroke-width="1.0" stroke-linejoin="round"/>
<polygon points="462.30,332.60 499.90,332.60 499.90,352.20 462.30,352.20" fill="url(#gfront)" stroke="#666666" stroke-width="1.0" stroke-linejoin="round"/>
<path d="M533.03,331.74 L532.46,331.57 L531.88,331.42 L531.30,331.26 L530.76,331.06 L530.26,330.81 L529.84,330.50 L529.50,330.11 L529.26,329.68 L529.13,329.19 L529.11,328.70 L529.20,328.21 L529.40,327.75 L529.70,327.34 L530.09,327.00 L530.56,326.73 L531.09,326.51 L531.65,326.34 L532.23,326.19 L532.81,326.03 L533.36,325.84 L533.86,325.60 L534.30,325.30 L534.65,324.93 L534.91,324.50 L535.06,324.02 L535.10,323.52 L535.02,323.03 L534.84,322.57 L534.55,322.15 L534.17,321.80 L533.72,321.52 L533.20,321.29 L532.64,321.12 L532.06,320.96 L531.48,320.81 L530.92,320.63 L530.41,320.39 L529.96,320.10 L529.60,319.74 L529.32,319.32 L529.16,318.85 L529.10,318.35 L529.16,317.85 L529.32,317.38 L529.60,316.96 L529.96,316.60 L530.41,316.31 L530.92,316.07 L531.48,315.89 L532.06,315.74 L532.64,315.58 L533.20,315.41 L533.72,315.18 L534.17,314.90 L534.55,314.55 L534.84,314.13 L535.02,313.67 L535.10,313.18 L535.06,312.68 L534.91,312.20 L534.65,311.77 L534.30,311.40 L533.86,311.10 L533.36,310.86 L532.81,310.67 L532.23,310.51 L531.65,310.36 L531.09,310.19 L530.56,309.97 L530.09,309.70 L529.70,309.36 L529.40,308.95 L529.20,308.49 L529.11,308.00 L529.13,307.51 L529.26,307.02 L529.50,306.59 L529.84,306.20 L530.26,305.89 L530.76,305.64 L531.30,305.44 L531.88,305.28 L532.46,305.13 L533.03,304.96 L533.56,304.76 L534.04,304.49 L534.45,304.16 L534.76,303.77 L534.98,303.32 L535.09,302.83 L535.08,302.33 L534.97,301.85 L534.74,301.40 L534.42,301.01 L534.01,300.68 L533.52,300.42 L532.98,300.22 L532.41,300.06 L531.83,299.91 L531.26,299.74 L530.72,299.54 L530.23,299.29 L529.81,298.97 L529.48,298.58 L529.25,298.14 L529.12,297.66 L529.11,297.16 L529.21,296.67 L529.42,296.21 L529.73,295.81 L530.13,295.48 L530.60,295.21 L531.13,295.00 L531.70,294.83 L532.28,294.68 L532.85,294.52 L533.40,294.33 L533.90,294.08 L534.33,293.77 L534.68,293.40" fill="none" stroke="#000" stroke-width="2.8" stroke-linecap="round" stroke-linejoin="round"/>
<path d="M533.03,352.46 L532.48,352.62 L531.93,352.77 L531.38,352.92 L530.86,353.10 L530.37,353.33 L529.95,353.61 L529.60,353.96 L529.34,354.36 L529.17,354.80 L529.10,355.27 L529.14,355.75 L529.27,356.20 L529.51,356.62 L529.83,356.99 L530.23,357.29 L530.69,357.53 L531.21,357.73 L531.75,357.88 L532.31,358.03 L532.85,358.18 L533.38,358.36 L533.86,358.59 L534.27,358.88 L534.62,359.23 L534.88,359.63 L535.04,360.08 L535.10,360.55 L535.06,361.03 L534.91,361.48 L534.68,361.90 L534.35,362.26 L533.94,362.56 L533.47,362.80 L532.96,362.99 L532.41,363.14 L531.86,363.29 L531.31,363.44 L530.79,363.63 L530.31,363.86 L529.90,364.15 L529.56,364.50 L529.31,364.91 L529.15,365.36 L529.10,365.83 L529.15,366.31 L529.30,366.76 L529.54,367.17 L529.88,367.53 L530.29,367.82 L530.76,368.06 L531.28,368.25 L531.82,368.40 L532.38,368.55 L532.92,368.70 L533.44,368.89 L533.91,369.13 L534.32,369.42 L534.66,369.78 L534.90,370.19 L535.05,370.64 L535.10,371.12 L535.05,371.59 L534.89,372.04 L534.64,372.45 L534.30,372.80 L533.89,373.09 L533.41,373.32 L532.89,373.51 L532.34,373.66 L531.79,373.81 L531.24,373.96 L530.73,374.15 L530.26,374.39 L529.85,374.69 L529.52,375.05 L529.29,375.47 L529.14,375.92 L529.10,376.40 L529.16,376.87 L529.32,377.32 L529.58,377.72 L529.93,378.07 L530.34,378.36 L530.82,378.59 L531.35,378.77 L531.89,378.92 L532.45,379.07 L532.99,379.22 L533.51,379.42 L533.97,379.66 L534.37,379.96 L534.69,380.33 L534.93,380.75 L535.06,381.20 L535.10,381.68 L535.03,382.15 L534.86,382.59 L534.60,382.99 L534.25,383.34 L533.83,383.62 L533.34,383.85 L532.82,384.03 L532.27,384.18 L531.72,384.33 L531.17,384.49 L530.66,384.68 L530.20,384.93 L529.81,385.24 L529.49,385.60 L529.26,386.02 L529.13,386.48 L529.10,386.96 L529.18,387.43 L529.35,387.87 L529.62,388.27 L529.98,388.61 L530.40,388.89 L530.89,389.11 L531.41,389.29 L531.97,389.44" fill="none" stroke="#000" stroke-width="2.8" stroke-linecap="round" stroke-linejoin="round"/>
<polygon points="515.20,332.60 518.40,329.40 556.00,329.40 552.80,332.60" fill="url(#gtop)" stroke="#666666" stroke-width="1.0" stroke-linejoin="round"/><polygon points="552.80,332.60 556.00,329.40 556.00,349.00 552.80,352.20" fill="#52c565" stroke="#666666" stroke-width="1.0" stroke-linejoin="round"/>
<polygon points="515.20,332.60 552.80,332.60 552.80,352.20 515.20,352.20" fill="url(#gfront)" stroke="#666666" stroke-width="1.0" stroke-linejoin="round"/>
<polygon points="63.10,432.90 66.00,430.00 101.90,430.00 99.00,432.90" fill="url(#gtop)" stroke="#666666" stroke-width="1.0" stroke-linejoin="round"/><polygon points="99.00,432.90 101.90,430.00 101.90,449.00 99.00,451.90" fill="#52c565" stroke="#666666" stroke-width="1.0" stroke-linejoin="round"/><polygon points="63.10,432.90 99.00,432.90 99.00,451.90 63.10,451.90" fill="url(#gfront)" stroke="#666666" stroke-width="1.0" stroke-linejoin="round"/>
<g transform="translate(2.8 -1.8) rotate(-4 80.6 469.0)"><ellipse cx="80.6" cy="469.0" rx="19.6" ry="11.4" fill="url(#gextup2)" stroke="none" stroke-width="0.6"/></g><g transform="translate(1.4 -0.9) rotate(-4 80.6 469.0)"><ellipse cx="80.6" cy="469.0" rx="19.6" ry="11.4" fill="url(#gextup2)"/></g><g transform="rotate(-4 80.6 469.0)"><ellipse cx="80.6" cy="469.0" rx="19.6" ry="11.4" fill="#a6a6a6" stroke="#5a5a5a" stroke-width="0.8"/></g>
<text x="113.3" y="458.6" font-size="18.8" class="b" fill="#000">backbone</text>
<path d="M244.13,428.05 L243.51,428.21 L242.84,428.32 L242.16,428.40 L241.50,428.51 L240.87,428.67 L240.30,428.93 L239.81,429.29 L239.41,429.76 L239.12,430.34 L238.95,430.98 L238.90,431.66 L238.98,432.33 L239.19,432.96 L239.51,433.51 L239.94,433.95 L240.46,434.28 L241.05,434.51 L241.69,434.65 L242.36,434.74 L243.04,434.83 L243.70,434.95 L244.31,435.14 L244.86,435.42 L245.33,435.82 L245.69,436.33 L245.95,436.93 L246.08,437.59 L246.09,438.27 L245.97,438.93 L245.72,439.54 L245.37,440.05 L244.91,440.46 L244.37,440.76 L243.76,440.96 L243.10,441.08 L242.43,441.17 L241.76,441.26 L241.11,441.40 L240.51,441.61 L239.99,441.93 L239.55,442.37 L239.22,442.90 L239.00,443.52 L238.90,444.19 L238.94,444.87 L239.09,445.52 L239.37,446.11 L239.76,446.59 L240.25,446.96 L240.81,447.23 L241.44,447.40 L242.10,447.51 L242.78,447.59 L243.44,447.70 L244.08,447.85 L244.65,448.10 L245.16,448.45 L245.56,448.92 L245.86,449.48 L246.04,450.12 L246.10,450.80 L246.03,451.48 L245.83,452.11 L245.52,452.66 L245.10,453.12 L244.59,453.46 L244.00,453.69 L243.36,453.84 L242.69,453.94 L242.02,454.02 L241.36,454.14 L240.74,454.32 L240.18,454.60 L239.71,454.98 L239.33,455.48 L239.07,456.07 L238.93,456.73 L238.91,457.41 L239.02,458.08 L239.25,458.69 L239.60,459.21 L240.05,459.63 L240.58,459.94 L241.19,460.14 L241.84,460.27 L242.51,460.36 L243.18,460.45 L243.83,460.58 L244.44,460.79 L244.97,461.10 L245.42,461.52 L245.76,462.05 L245.99,462.67 L246.09,463.33 L246.07,464.02 L245.92,464.67 L245.66,465.26 L245.28,465.75 L244.80,466.14 L244.24,466.41 L243.62,466.59 L242.96,466.70 L242.28,466.79 L241.61,466.88 L240.98,467.04 L240.39,467.27 L239.88,467.62 L239.47,468.07 L239.16,468.63 L238.97,469.27 L238.90,469.94 L238.96,470.62 L239.15,471.26 L239.45,471.82 L239.86,472.28 L240.36,472.63 L240.94,472.87 L241.58,473.03 L242.25,473.13 L242.92,473.21" fill="none" stroke="#000" stroke-width="3.2" stroke-linecap="round"/>
<text x="258.2" y="458.6" font-size="18.8" class="b" fill="#000">alkyl chain</text>
<path d="M408.56,473.96 L407.97,473.73 L407.36,473.52 L406.76,473.30 L406.18,473.06 L405.64,472.76 L405.16,472.39 L404.75,471.96 L404.43,471.46 L404.21,470.90 L404.09,470.30 L404.08,469.68 L404.17,469.08 L404.37,468.51 L404.67,467.99 L405.06,467.54 L405.52,467.16 L406.05,466.84 L406.62,466.59 L407.22,466.36 L407.83,466.15 L408.43,465.93 L408.99,465.67 L409.52,465.35 L409.97,464.97 L410.35,464.51 L410.65,463.99 L410.84,463.41 L410.92,462.81 L410.90,462.19 L410.78,461.59 L410.54,461.04 L410.22,460.54 L409.81,460.11 L409.32,459.75 L408.78,459.46 L408.20,459.21 L407.59,459.00 L406.99,458.78 L406.40,458.55 L405.84,458.27" fill="none" stroke="#f00000" stroke-width="2.7" stroke-linecap="round" stroke-linejoin="round"/><ellipse cx="407.50" cy="453.47" rx="4.19" ry="4.57" fill="none" stroke="#f00000" stroke-width="2.7"/><path d="M409.17,449.49 L409.64,449.25 L410.07,448.97 L410.43,448.63 L410.73,448.25 L410.96,447.82 L411.11,447.36 L411.18,446.88 L411.17,446.40 L411.07,445.92 L410.90,445.47 L410.65,445.06 L410.32,444.69 L409.94,444.37 L409.50,444.10 L409.02,443.88 L408.50,443.69 L407.96,443.54 L407.41,443.39 L406.86,443.24 L406.33,443.08 L405.82,442.88 L405.35,442.65 L404.93,442.36 L404.56,442.03 L404.27,441.64 L404.04,441.21 L403.89,440.75 L403.82,440.27 L403.84,439.79 L403.93,439.31 L404.11,438.86 L404.36,438.45 L404.68,438.08 L405.06,437.76 L405.50,437.49 L405.99,437.27 L406.51,437.09 L407.05,436.93 L407.60,436.78 L408.14,436.64 L408.68,436.47 L409.18,436.28 L409.65,436.04 L410.08,435.75 L410.44,435.42 L410.74,435.03 L410.96,434.60 L411.11,434.14 L411.18,433.66 L411.16,433.18 L411.07,432.70 L410.89,432.25 L410.64,431.84 L410.32,431.47 L409.93,431.15 L409.49,430.89 L409.01,430.66 L408.49,430.48 L407.95,430.32 L407.40,430.18 L406.85,430.03 L406.32,429.87 L405.81,429.67 L405.34,429.43 L404.92,429.14 L404.56,428.81 L404.26,428.42 L404.03,427.99 L403.89,427.53 L403.82,427.05" fill="none" stroke="#f00000" stroke-width="2.7" stroke-linecap="round" stroke-linejoin="round"/>
<text x="419.4" y="458.6" font-size="18.8" class="b" fill="#f00000">OEG chain</text>
<!-- Panel B -->
<text x="584.9" y="41.1" font-size="24.5" class="b" fill="#000">B</text>
<polygon points="645.00,103.75 650.10,86.25 669.50,83.60 676.00,101.50 661.20,113.90" fill="url(#gring)" stroke="none"/><polygon points="690.00,102.00 695.70,84.20 714.50,83.60 721.50,102.00 705.75,112.50" fill="url(#gring)" stroke="none"/><polygon points="721.50,102.00 736.40,112.15 731.10,130.90 711.90,130.90 705.75,112.50" fill="url(#gring)" stroke="none"/><polygon points="751.00,111.30 765.50,99.40 780.75,109.00 776.40,126.50 757.10,128.25" fill="url(#gring)" stroke="none"/><polygon points="800.90,109.35 816.60,98.50 831.20,107.25 826.25,126.15 807.00,127.40" fill="url(#gring)" stroke="none"/><line x1="645.00" y1="103.75" x2="650.10" y2="86.25" stroke="#000" stroke-width="1.75" stroke-linecap="round"/><line x1="650.10" y1="86.25" x2="669.50" y2="83.60" stroke="#000" stroke-width="1.75" stroke-linecap="round"/><line x1="669.50" y1="83.60" x2="676.00" y2="101.50" stroke="#000" stroke-width="1.75" stroke-linecap="round"/><line x1="676.00" y1="101.50" x2="665.19" y2="110.56" stroke="#000" stroke-width="1.75" stroke-linecap="round"/><line x1="656.79" y1="111.14" x2="645.00" y2="103.75" stroke="#000" stroke-width="1.75" stroke-linecap="round"/><line x1="649.18" y1="102.26" x2="652.83" y2="89.75" stroke="#000" stroke-width="1.75" stroke-linecap="round"/><line x1="667.00" y1="87.27" x2="671.73" y2="100.28" stroke="#000" stroke-width="1.75" stroke-linecap="round"/><line x1="676.00" y1="101.50" x2="690.00" y2="102.00" stroke="#000" stroke-width="1.75" stroke-linecap="round"/><line x1="690.00" y1="102.00" x2="694.02" y2="89.44" stroke="#000" stroke-width="1.75" stroke-linecap="round"/><line x1="701.70" y1="84.01" x2="714.50" y2="83.60" stroke="#000" stroke-width="1.75" stroke-linecap="round"/><line x1="714.50" y1="83.60" x2="721.50" y2="102.00" stroke="#000" stroke-width="1.75" stroke-linecap="round"/><line x1="721.50" y1="102.00" x2="705.75" y2="112.50" stroke="#000" stroke-width="1.75" stroke-linecap="round"/><line x1="705.75" y1="112.50" x2="690.00" y2="102.00" stroke="#000" stroke-width="1.75" stroke-linecap="round"/><line x1="694.16" y1="100.45" x2="705.58" y2="108.06" stroke="#000" stroke-width="1.75" stroke-linecap="round"/><line x1="721.50" y1="102.00" x2="736.40" y2="112.15" stroke="#000" stroke-width="1.75" stroke-linecap="round"/><line x1="736.40" y1="112.15" x2="732.60" y2="125.61" stroke="#000" stroke-width="1.75" stroke-linecap="round"/><line x1="725.10" y1="130.90" x2="711.90" y2="130.90" stroke="#000" stroke-width="1.75" stroke-linecap="round"/><line x1="711.90" y1="130.90" x2="705.75" y2="112.50" stroke="#000" stroke-width="1.75" stroke-linecap="round"/><line x1="721.62" y1="106.44" x2="732.22" y2="113.66" stroke="#000" stroke-width="1.75" stroke-linecap="round"/><line x1="712.99" y1="82.44" x2="720.43" y2="72.75" stroke="#000" stroke-width="1.75" stroke-linecap="round"/><line x1="716.01" y1="84.76" x2="723.45" y2="75.06" stroke="#000" stroke-width="1.75" stroke-linecap="round"/><line x1="713.45" y1="132.00" x2="706.70" y2="141.54" stroke="#000" stroke-width="1.75" stroke-linecap="round"/><line x1="710.35" y1="129.80" x2="703.60" y2="139.35" stroke="#000" stroke-width="1.75" stroke-linecap="round"/><line x1="736.40" y1="112.15" x2="751.00" y2="111.30" stroke="#000" stroke-width="1.75" stroke-linecap="round"/><line x1="751.00" y1="111.30" x2="761.48" y2="102.70" stroke="#000" stroke-width="1.75" stroke-linecap="round"/><line x1="769.90" y1="102.17" x2="780.75" y2="109.00" stroke="#000" stroke-width="1.75" stroke-linecap="round"/><line x1="780.75" y1="109.00" x2="776.40" y2="126.50" stroke="#000" stroke-width="1.75" stroke-linecap="round"/><line x1="776.40" y1="126.50" x2="757.10" y2="128.25" stroke="#000" stroke-width="1.75" stroke-linecap="round"/><line x1="757.10" y1="128.25" x2="751.00" y2="111.30" stroke="#000" stroke-width="1.75" stroke-linecap="round"/><line x1="776.63" y1="110.65" x2="773.53" y2="123.11" stroke="#000" stroke-width="1.75" stroke-linecap="round"/><line x1="759.61" y1="124.58" x2="755.27" y2="112.53" stroke="#000" stroke-width="1.75" stroke-linecap="round"/><line x1="780.75" y1="109.00" x2="800.90" y2="109.35" stroke="#000" stroke-width="1.75" stroke-linecap="round"/><line x1="800.90" y1="109.35" x2="810.02" y2="103.05" stroke="#000" stroke-width="1.75" stroke-linecap="round"/><line x1="823.46" y1="102.61" x2="831.20" y2="107.25" stroke="#000" stroke-width="1.75" stroke-linecap="round"/><line x1="831.20" y1="107.25" x2="826.25" y2="126.15" stroke="#000" stroke-width="1.75" stroke-linecap="round"/><line x1="826.25" y1="126.15" x2="807.00" y2="127.40" stroke="#000" stroke-width="1.75" stroke-linecap="round"/><line x1="807.00" y1="127.40" x2="800.90" y2="109.35" stroke="#000" stroke-width="1.75" stroke-linecap="round"/><line x1="827.06" y1="108.85" x2="823.43" y2="122.72" stroke="#000" stroke-width="1.75" stroke-linecap="round"/><line x1="809.58" y1="123.78" x2="805.14" y2="110.66" stroke="#000" stroke-width="1.75" stroke-linecap="round"/><text transform="translate(661.20,119.34) scale(1.0,1)" font-size="15.2" font-weight="bold" fill="#000" stroke="#000" stroke-width="0.3" text-anchor="middle">S</text><text transform="translate(695.70,89.64) scale(1.0,1)" font-size="15.2" font-weight="bold" fill="#000" stroke="#000" stroke-width="0.3" text-anchor="middle">N</text><text transform="translate(725.90,74.19) scale(1.0,1)" font-size="15.2" font-weight="bold" fill="#000" stroke="#000" stroke-width="0.3" text-anchor="middle">O</text><text transform="translate(731.10,136.34) scale(1.0,1)" font-size="15.2" font-weight="bold" fill="#000" stroke="#000" stroke-width="0.3" text-anchor="middle">N</text><text transform="translate(701.40,151.19) scale(1.0,1)" font-size="15.2" font-weight="bold" fill="#000" stroke="#000" stroke-width="0.3" text-anchor="middle">O</text><text transform="translate(765.50,104.84) scale(1.0,1)" font-size="15.2" font-weight="bold" fill="#000" stroke="#000" stroke-width="0.3" text-anchor="middle">S</text><text transform="translate(820.00,102.94) scale(1.0,1)" font-size="15.2" font-weight="bold" fill="#000" stroke="#000" stroke-width="0.3" text-anchor="middle">Se</text>
<polygon points="872.80,106.95 877.90,89.45 897.30,86.80 903.80,104.70 889.00,117.10" fill="url(#gring)" stroke="none"/><polygon points="920.30,104.50 926.00,86.70 944.80,86.10 951.80,104.50 936.05,115.00" fill="url(#gring)" stroke="none"/><polygon points="951.80,104.50 966.70,114.65 961.40,133.40 942.20,133.40 936.05,115.00" fill="url(#gring)" stroke="none"/><polygon points="983.50,113.90 998.00,102.00 1013.25,111.60 1008.90,129.10 989.60,130.85" fill="url(#gring)" stroke="none"/><polygon points="1031.90,111.55 1047.60,100.70 1062.20,109.45 1057.25,128.35 1038.00,129.60" fill="url(#gring)" stroke="none"/><line x1="872.80" y1="106.95" x2="877.90" y2="89.45" stroke="#000" stroke-width="1.75" stroke-linecap="round"/><line x1="877.90" y1="89.45" x2="897.30" y2="86.80" stroke="#000" stroke-width="1.75" stroke-linecap="round"/><line x1="897.30" y1="86.80" x2="903.80" y2="104.70" stroke="#000" stroke-width="1.75" stroke-linecap="round"/><line x1="903.80" y1="104.70" x2="892.99" y2="113.76" stroke="#000" stroke-width="1.75" stroke-linecap="round"/><line x1="884.59" y1="114.34" x2="872.80" y2="106.95" stroke="#000" stroke-width="1.75" stroke-linecap="round"/><line x1="876.98" y1="105.46" x2="880.63" y2="92.95" stroke="#000" stroke-width="1.75" stroke-linecap="round"/><line x1="894.80" y1="90.47" x2="899.53" y2="103.48" stroke="#000" stroke-width="1.75" stroke-linecap="round"/><line x1="903.80" y1="104.70" x2="920.30" y2="104.50" stroke="#000" stroke-width="1.75" stroke-linecap="round"/><line x1="920.30" y1="104.50" x2="924.32" y2="91.94" stroke="#000" stroke-width="1.75" stroke-linecap="round"/><line x1="932.00" y1="86.51" x2="944.80" y2="86.10" stroke="#000" stroke-width="1.75" stroke-linecap="round"/><line x1="944.80" y1="86.10" x2="951.80" y2="104.50" stroke="#000" stroke-width="1.75" stroke-linecap="round"/><line x1="951.80" y1="104.50" x2="936.05" y2="115.00" stroke="#000" stroke-width="1.75" stroke-linecap="round"/><line x1="936.05" y1="115.00" x2="920.30" y2="104.50" stroke="#000" stroke-width="1.75" stroke-linecap="round"/><line x1="924.46" y1="102.95" x2="935.88" y2="110.56" stroke="#000" stroke-width="1.75" stroke-linecap="round"/><line x1="951.80" y1="104.50" x2="966.70" y2="114.65" stroke="#000" stroke-width="1.75" stroke-linecap="round"/><line x1="966.70" y1="114.65" x2="962.90" y2="128.11" stroke="#000" stroke-width="1.75" stroke-linecap="round"/><line x1="955.40" y1="133.40" x2="942.20" y2="133.40" stroke="#000" stroke-width="1.75" stroke-linecap="round"/><line x1="942.20" y1="133.40" x2="936.05" y2="115.00" stroke="#000" stroke-width="1.75" stroke-linecap="round"/><line x1="951.92" y1="108.94" x2="962.52" y2="116.16" stroke="#000" stroke-width="1.75" stroke-linecap="round"/><line x1="943.29" y1="84.94" x2="950.73" y2="75.25" stroke="#000" stroke-width="1.75" stroke-linecap="round"/><line x1="946.31" y1="87.26" x2="953.75" y2="77.56" stroke="#000" stroke-width="1.75" stroke-linecap="round"/><line x1="943.75" y1="134.50" x2="937.00" y2="144.04" stroke="#000" stroke-width="1.75" stroke-linecap="round"/><line x1="940.65" y1="132.30" x2="933.90" y2="141.85" stroke="#000" stroke-width="1.75" stroke-linecap="round"/><line x1="966.70" y1="114.65" x2="983.50" y2="113.90" stroke="#000" stroke-width="1.75" stroke-linecap="round"/><line x1="983.50" y1="113.90" x2="993.98" y2="105.30" stroke="#000" stroke-width="1.75" stroke-linecap="round"/><line x1="1002.40" y1="104.77" x2="1013.25" y2="111.60" stroke="#000" stroke-width="1.75" stroke-linecap="round"/><line x1="1013.25" y1="111.60" x2="1008.90" y2="129.10" stroke="#000" stroke-width="1.75" stroke-linecap="round"/><line x1="1008.90" y1="129.10" x2="989.60" y2="130.85" stroke="#000" stroke-width="1.75" stroke-linecap="round"/><line x1="989.60" y1="130.85" x2="983.50" y2="113.90" stroke="#000" stroke-width="1.75" stroke-linecap="round"/><line x1="1009.13" y1="113.25" x2="1006.03" y2="125.71" stroke="#000" stroke-width="1.75" stroke-linecap="round"/><line x1="992.11" y1="127.18" x2="987.77" y2="115.13" stroke="#000" stroke-width="1.75" stroke-linecap="round"/><line x1="1013.25" y1="111.60" x2="1031.90" y2="111.55" stroke="#000" stroke-width="1.75" stroke-linecap="round"/><line x1="1031.90" y1="111.55" x2="1041.02" y2="105.25" stroke="#000" stroke-width="1.75" stroke-linecap="round"/><line x1="1054.46" y1="104.81" x2="1062.20" y2="109.45" stroke="#000" stroke-width="1.75" stroke-linecap="round"/><line x1="1062.20" y1="109.45" x2="1057.25" y2="128.35" stroke="#000" stroke-width="1.75" stroke-linecap="round"/><line x1="1057.25" y1="128.35" x2="1038.00" y2="129.60" stroke="#000" stroke-width="1.75" stroke-linecap="round"/><line x1="1038.00" y1="129.60" x2="1031.90" y2="111.55" stroke="#000" stroke-width="1.75" stroke-linecap="round"/><line x1="1058.06" y1="111.05" x2="1054.43" y2="124.92" stroke="#000" stroke-width="1.75" stroke-linecap="round"/><line x1="1040.58" y1="125.98" x2="1036.14" y2="112.86" stroke="#000" stroke-width="1.75" stroke-linecap="round"/><text transform="translate(889.00,122.54) scale(1.0,1)" font-size="15.2" font-weight="bold" fill="#000" stroke="#000" stroke-width="0.3" text-anchor="middle">S</text><text transform="translate(926.00,92.14) scale(1.0,1)" font-size="15.2" font-weight="bold" fill="#000" stroke="#000" stroke-width="0.3" text-anchor="middle">N</text><text transform="translate(956.20,76.69) scale(1.0,1)" font-size="15.2" font-weight="bold" fill="#000" stroke="#000" stroke-width="0.3" text-anchor="middle">O</text><text transform="translate(961.40,138.84) scale(1.0,1)" font-size="15.2" font-weight="bold" fill="#000" stroke="#000" stroke-width="0.3" text-anchor="middle">N</text><text transform="translate(931.70,153.69) scale(1.0,1)" font-size="15.2" font-weight="bold" fill="#000" stroke="#000" stroke-width="0.3" text-anchor="middle">O</text><text transform="translate(998.00,107.44) scale(1.0,1)" font-size="15.2" font-weight="bold" fill="#000" stroke="#000" stroke-width="0.3" text-anchor="middle">S</text><text transform="translate(1051.00,105.14) scale(1.0,1)" font-size="15.2" font-weight="bold" fill="#000" stroke="#000" stroke-width="0.3" text-anchor="middle">Se</text>
<line x1="625.20" y1="103.75" x2="645.00" y2="103.75" stroke="#000" stroke-width="1.75" stroke-linecap="round"/>
<path d="M638.60,84.50 Q630.35,101.25 640.30,117.00" fill="none" stroke="#000" stroke-width="1.6" stroke-linecap="round"/>
<line x1="831.20" y1="107.25" x2="872.80" y2="106.95" stroke="#000" stroke-width="1.75" stroke-linecap="round"/>
<path d="M835.20,92.50 Q845.55,108.00 835.70,123.50" fill="none" stroke="#000" stroke-width="1.6" stroke-linecap="round"/>
<path d="M866.20,90.90 Q857.80,108.35 867.80,122.40" fill="none" stroke="#000" stroke-width="1.6" stroke-linecap="round"/>
<line x1="1062.20" y1="109.45" x2="1082.30" y2="109.45" stroke="#000" stroke-width="1.75" stroke-linecap="round"/>
<path d="M1069.50,94.30 Q1078.30,108.90 1070.70,125.90" fill="none" stroke="#000" stroke-width="1.6" stroke-linecap="round"/>
<text transform="translate(838.0,133.5) scale(1.1,1)" font-size="13" class="b" fill="#000" stroke="#000" stroke-width="0.3">1-x</text>
<text x="1077.3" y="130.4" font-size="13.5" class="b" fill="#000" stroke="#000" stroke-width="0.3">x</text>
<text x="656.0" y="39.0" font-size="14" class="b" fill="#000" stroke="#000" stroke-width="0.3" text-anchor="start"><tspan font-size="14" dy="0">C</tspan><tspan font-size="11" dy="3.0">10</tspan><tspan font-size="14" dy="-3.0">H</tspan><tspan font-size="11" dy="3.0">21</tspan></text>
<text x="705.0" y="54.7" font-size="14" class="b" fill="#000" stroke="#000" stroke-width="0.3" text-anchor="start"><tspan font-size="14" dy="0">C</tspan><tspan font-size="11" dy="3.0">8</tspan><tspan font-size="14" dy="-3.0">H</tspan><tspan font-size="11" dy="3.0">17</tspan></text>
<line x1="691.20" y1="51.10" x2="685.00" y2="41.90" stroke="#000" stroke-width="1.75" stroke-linecap="round"/><line x1="691.20" y1="51.10" x2="704.00" y2="49.20" stroke="#000" stroke-width="1.75" stroke-linecap="round"/><line x1="691.20" y1="51.10" x2="683.90" y2="68.90" stroke="#000" stroke-width="1.75" stroke-linecap="round"/><line x1="683.90" y1="68.90" x2="690.90" y2="77.50" stroke="#000" stroke-width="1.75" stroke-linecap="round"/>
<text x="681.0" y="170.6" font-size="14" class="b" fill="#000" stroke="#000" stroke-width="0.3" text-anchor="start"><tspan font-size="14" dy="0">C</tspan><tspan font-size="11" dy="3.0">8</tspan><tspan font-size="14" dy="-3.0">H</tspan><tspan font-size="11" dy="3.0">17</tspan></text>
<text x="742.2" y="183.5" font-size="14" class="b" fill="#000" stroke="#000" stroke-width="0.3" text-anchor="start"><tspan font-size="14" dy="0">C</tspan><tspan font-size="11" dy="3.0">10</tspan><tspan font-size="14" dy="-3.0">H</tspan><tspan font-size="11" dy="3.0">21</tspan></text>
<line x1="736.00" y1="136.00" x2="742.40" y2="145.70" stroke="#000" stroke-width="1.75" stroke-linecap="round"/><line x1="742.40" y1="145.70" x2="735.10" y2="163.60" stroke="#000" stroke-width="1.75" stroke-linecap="round"/><line x1="735.10" y1="163.60" x2="721.10" y2="165.10" stroke="#000" stroke-width="1.75" stroke-linecap="round"/><line x1="735.10" y1="163.60" x2="742.90" y2="174.20" stroke="#000" stroke-width="1.75" stroke-linecap="round"/>
<text x="862.8" y="53.6" font-size="12.3" fill="#f00000" stroke="#f00000" stroke-width="0.45">3</text>
<path d="M887.60,35.75 Q878.50,41.00 874.20,52.40" fill="none" stroke="#f00000" stroke-width="1.6" stroke-linecap="round"/>
<line x1="873.60" y1="41.00" x2="886.20" y2="44.90" stroke="#f00000" stroke-width="1.6" stroke-linecap="round"/>
<text transform="translate(891.65,53.20) scale(1.0,1)" font-size="15.5" font-weight="normal" fill="#f00000" stroke="#f00000" stroke-width="0.6" text-anchor="middle">O</text>
<line x1="892.90" y1="54.10" x2="895.85" y2="65.85" stroke="#f00000" stroke-width="1.6" stroke-linecap="round"/><line x1="895.85" y1="65.85" x2="920.00" y2="79.80" stroke="#f00000" stroke-width="1.6" stroke-linecap="round"/>
<path d="M920.90,67.25 Q918.00,77.50 906.00,82.65" fill="none" stroke="#f00000" stroke-width="1.6" stroke-linecap="round"/>
<line x1="965.90" y1="139.50" x2="972.90" y2="147.70" stroke="#f00000" stroke-width="1.6" stroke-linecap="round"/><line x1="972.90" y1="147.70" x2="992.00" y2="152.70" stroke="#f00000" stroke-width="1.6" stroke-linecap="round"/><line x1="992.00" y1="152.70" x2="994.70" y2="164.40" stroke="#f00000" stroke-width="1.6" stroke-linecap="round"/>
<path d="M979.60,134.80 Q969.00,141.00 965.60,151.60" fill="none" stroke="#f00000" stroke-width="1.6" stroke-linecap="round"/>
<text transform="translate(996.70,176.55) scale(1.0,1)" font-size="15.5" font-weight="normal" fill="#f00000" stroke="#f00000" stroke-width="0.6" text-anchor="middle">O</text>
<line x1="1002.50" y1="172.60" x2="1015.70" y2="175.70" stroke="#f00000" stroke-width="1.6" stroke-linecap="round"/>
<path d="M1014.10,165.60 Q1014.50,176.50 1002.90,184.60" fill="none" stroke="#f00000" stroke-width="1.6" stroke-linecap="round"/>
<text x="1007.4" y="192.8" font-size="12.3" fill="#f00000" stroke="#f00000" stroke-width="0.45">3</text>
<text transform="translate(813.2,188.8) scale(1.015,1)" font-size="20.6" class="b" fill="#000" stroke="#000" stroke-width="0.3">PDPPg<tspan font-size="15" dy="4.8">x</tspan><tspan dy="-4.8">-Se</tspan></text>
<!-- Panel C -->
<text x="584.6" y="221.0" font-size="24.8" class="b" fill="#000">C</text>
<g clip-path="url(#plotclip)">
<polygon points="649.40,244.27 653.28,248.58 657.17,252.81 661.05,256.96 664.94,261.03 668.82,265.02 672.71,268.94 676.60,272.78 680.48,276.55 684.37,280.25 688.25,283.87 692.13,287.43 696.02,290.92 699.90,294.35 703.79,297.70 707.67,301.00 711.56,304.23 715.44,307.40 719.33,310.51 723.21,313.57 727.10,316.56 730.99,319.50 734.87,322.38 738.75,325.20 742.64,327.98 746.52,330.70 750.41,333.36 754.29,335.98 758.18,338.55 762.06,341.07 765.95,343.54 769.83,345.96 773.72,348.34 777.61,350.67 781.49,352.96 785.38,355.21 789.26,357.41 793.14,359.57 797.03,361.69 800.91,363.77 804.80,365.81 808.68,367.81 812.57,369.77 816.45,371.70 820.34,373.59 824.22,375.44 828.11,377.26 831.99,379.04 835.88,380.79 839.76,382.51 843.65,384.19 847.53,385.84 851.42,387.46 855.30,389.05 859.19,390.61 863.07,392.14 866.96,393.64 870.84,395.11 874.73,396.56 878.62,397.97 882.50,399.36 886.38,400.72 890.27,402.06 894.15,403.37 898.04,404.66 901.92,405.92 905.81,407.16 909.69,408.38 913.58,409.57 917.46,410.74 921.35,411.88 925.24,413.01 929.12,414.11 933.00,415.20 936.89,416.26 940.77,417.30 944.66,418.32 948.54,419.33 952.43,420.31 956.31,421.27 960.20,422.22 964.09,423.15 967.97,424.06 971.85,424.95 975.74,425.83 979.62,426.69 983.51,427.54 987.39,428.36 991.28,429.17 995.16,429.97 999.05,430.75 1002.93,431.52 1006.82,432.27 1010.70,433.01 1014.59,433.73 1018.47,434.44 1022.36,435.14 1026.24,435.82 1030.13,436.49 1034.01,437.15 1037.90,437.80 1041.78,438.43 1045.67,439.05 1049.55,439.66 1053.44,440.25 1057.32,440.84 1061.21,441.42 1065.09,441.98 1068.98,442.53 1072.86,443.08 1076.75,443.61 1080.63,444.13 1084.52,444.64 1088.40,445.14 1092.29,445.64 1096.17,446.12 1100.06,446.60 1103.94,447.06 1107.83,447.52 1111.71,447.97 1115.60,448.41 1115.60,431.80 1111.71,431.04 1107.83,430.26 1103.94,429.47 1100.06,428.67 1096.17,427.85 1092.29,427.01 1088.40,426.15 1084.52,425.28 1080.63,424.40 1076.75,423.49 1072.86,422.57 1068.98,421.63 1065.09,420.67 1061.21,419.69 1057.32,418.70 1053.44,417.68 1049.55,416.65 1045.67,415.59 1041.78,414.52 1037.90,413.42 1034.01,412.31 1030.13,411.17 1026.24,410.01 1022.36,408.82 1018.47,407.62 1014.59,406.39 1010.70,405.13 1006.82,403.86 1002.93,402.55 999.05,401.23 995.16,399.87 991.28,398.49 987.39,397.09 983.51,395.65 979.62,394.19 975.74,392.70 971.85,391.18 967.97,389.64 964.09,388.06 960.20,386.45 956.31,384.81 952.43,383.14 948.54,381.43 944.66,379.70 940.77,377.93 936.89,376.12 933.00,374.28 929.12,372.41 925.24,370.49 921.35,368.55 917.46,366.56 913.58,364.53 909.69,362.47 905.81,360.37 901.92,358.22 898.04,356.03 894.15,353.80 890.27,351.53 886.38,349.22 882.50,346.86 878.62,344.45 874.73,341.99 870.84,339.49 866.96,336.94 863.07,334.35 859.19,331.70 855.30,329.00 851.42,326.24 847.53,323.44 843.65,320.58 839.76,317.66 835.88,314.69 831.99,311.66 828.11,308.57 824.22,305.42 820.34,302.21 816.45,298.94 812.57,295.60 808.68,292.21 804.80,288.74 800.91,285.21 797.03,281.61 793.14,277.93 789.26,274.19 785.38,270.38 781.49,266.49 777.61,262.53 773.72,258.49 769.83,254.37 765.95,250.17 762.06,245.89 758.18,241.53 754.29,237.08 750.41,232.54 746.52,227.92 742.64,223.21 738.75,218.41 734.87,213.51 730.99,208.52 727.10,203.44 723.21,198.25 719.33,192.97 715.44,187.58 711.56,182.09 707.67,176.49 703.79,170.78 699.90,164.96 696.02,159.03 692.13,152.99 688.25,146.82 684.37,140.54 680.48,134.14 676.60,127.61 672.71,120.95 668.82,114.17 664.94,107.26 661.05,100.21 657.17,93.02 653.28,85.70 649.40,78.23" fill="#e9e9e9"/>
<polygon points="649.40,78.23 653.28,85.70 657.17,93.02 661.05,100.21 664.94,107.26 668.82,114.17 672.71,120.95 676.60,127.61 680.48,134.14 684.37,140.54 688.25,146.82 692.13,152.99 696.02,159.03 699.90,164.96 703.79,170.78 707.67,176.49 711.56,182.09 715.44,187.58 719.33,192.97 723.21,198.25 727.10,203.44 730.99,208.52 734.87,213.51 738.75,218.41 742.64,223.21 746.52,227.92 750.41,232.54 754.29,237.08 758.18,241.53 762.06,245.89 765.95,250.17 769.83,254.37 773.72,258.49 777.61,262.53 781.49,266.49 785.38,270.38 789.26,274.19 793.14,277.93 797.03,281.61 800.91,285.21 804.80,288.74 808.68,292.21 812.57,295.60 816.45,298.94 820.34,302.21 824.22,305.42 828.11,308.57 831.99,311.66 835.88,314.69 839.76,317.66 843.65,320.58 847.53,323.44 851.42,326.24 855.30,329.00 859.19,331.70 863.07,334.35 866.96,336.94 870.84,339.49 874.73,341.99 878.62,344.45 882.50,346.86 886.38,349.22 890.27,351.53 894.15,353.80 898.04,356.03 901.92,358.22 905.81,360.37 909.69,362.47 913.58,364.53 917.46,366.56 921.35,368.55 925.24,370.49 929.12,372.41 933.00,374.28 936.89,376.12 940.77,377.93 944.66,379.70 948.54,381.43 952.43,383.14 956.31,384.81 960.20,386.45 964.09,388.06 967.97,389.64 971.85,391.18 975.74,392.70 979.62,394.19 983.51,395.65 987.39,397.09 991.28,398.49 995.16,399.87 999.05,401.23 1002.93,402.55 1006.82,403.86 1010.70,405.13 1014.59,406.39 1018.47,407.62 1022.36,408.82 1026.24,410.01 1030.13,411.17 1034.01,412.31 1037.90,413.42 1041.78,414.52 1045.67,415.59 1049.55,416.65 1053.44,417.68 1057.32,418.70 1061.21,419.69 1065.09,420.67 1068.98,421.63 1072.86,422.57 1076.75,423.49 1080.63,424.40 1084.52,425.28 1088.40,426.15 1092.29,427.01 1096.17,427.85 1100.06,428.67 1103.94,429.47 1107.83,430.26 1111.71,431.04 1115.60,431.80 1115.60,415.53 1111.71,414.45 1107.83,413.36 1103.94,412.24 1100.06,411.10 1096.17,409.93 1092.29,408.75 1088.40,407.54 1084.52,406.31 1080.63,405.06 1076.75,403.78 1072.86,402.47 1068.98,401.14 1065.09,399.79 1061.21,398.41 1057.32,397.00 1053.44,395.56 1049.55,394.10 1045.67,392.61 1041.78,391.09 1037.90,389.54 1034.01,387.96 1030.13,386.35 1026.24,384.71 1022.36,383.03 1018.47,381.33 1014.59,379.59 1010.70,377.82 1006.82,376.01 1002.93,374.17 999.05,372.29 995.16,370.38 991.28,368.42 987.39,366.43 983.51,364.41 979.62,362.34 975.74,360.23 971.85,358.09 967.97,355.90 964.09,353.67 960.20,351.39 956.31,349.07 952.43,346.71 948.54,344.30 944.66,341.84 940.77,339.34 936.89,336.79 933.00,334.18 929.12,331.53 925.24,328.83 921.35,326.07 917.46,323.26 913.58,320.40 909.69,317.48 905.81,314.50 901.92,311.47 898.04,308.38 894.15,305.22 890.27,302.01 886.38,298.74 882.50,295.40 878.62,291.99 874.73,288.52 870.84,284.99 866.96,281.38 863.07,277.71 859.19,273.96 855.30,270.14 851.42,266.25 847.53,262.28 843.65,258.23 839.76,254.11 835.88,249.91 831.99,245.62 828.11,241.25 824.22,236.80 820.34,232.26 816.45,227.63 812.57,222.92 808.68,218.11 804.80,213.21 800.91,208.21 797.03,203.12 793.14,197.93 789.26,192.64 785.38,187.24 781.49,181.74 777.61,176.14 773.72,170.42 769.83,164.60 765.95,158.66 762.06,152.61 758.18,146.44 754.29,140.15 750.41,133.74 746.52,127.20 742.64,120.54 738.75,113.75 734.87,106.82 730.99,99.77 727.10,92.57 723.21,85.24 719.33,77.77 715.44,70.15 711.56,62.38 707.67,54.46 703.79,46.39 699.90,38.16 696.02,29.77 692.13,21.22 688.25,12.51 684.37,3.62 680.48,-5.43 676.60,-14.66 672.71,-24.08 668.82,-33.67 664.94,-43.45 661.05,-53.42 657.17,-63.58 653.28,-73.94 649.40,-84.49" fill="#d9e8fd"/>
<polygon points="649.40,-84.49 653.28,-73.94 657.17,-63.58 661.05,-53.42 664.94,-43.45 668.82,-33.67 672.71,-24.08 676.60,-14.66 680.48,-5.43 684.37,3.62 688.25,12.51 692.13,21.22 696.02,29.77 699.90,38.16 703.79,46.39 707.67,54.46 711.56,62.38 715.44,70.15 719.33,77.77 723.21,85.24 727.10,92.57 730.99,99.77 734.87,106.82 738.75,113.75 742.64,120.54 746.52,127.20 750.41,133.74 754.29,140.15 758.18,146.44 762.06,152.61 765.95,158.66 769.83,164.60 773.72,170.42 777.61,176.14 781.49,181.74 785.38,187.24 789.26,192.64 793.14,197.93 797.03,203.12 800.91,208.21 804.80,213.21 808.68,218.11 812.57,222.92 816.45,227.63 820.34,232.26 824.22,236.80 828.11,241.25 831.99,245.62 835.88,249.91 839.76,254.11 843.65,258.23 847.53,262.28 851.42,266.25 855.30,270.14 859.19,273.96 863.07,277.71 866.96,281.38 870.84,284.99 874.73,288.52 878.62,291.99 882.50,295.40 886.38,298.74 890.27,302.01 894.15,305.22 898.04,308.38 901.92,311.47 905.81,314.50 909.69,317.48 913.58,320.40 917.46,323.26 921.35,326.07 925.24,328.83 929.12,331.53 933.00,334.18 936.89,336.79 940.77,339.34 944.66,341.84 948.54,344.30 952.43,346.71 956.31,349.07 960.20,351.39 964.09,353.67 967.97,355.90 971.85,358.09 975.74,360.23 979.62,362.34 983.51,364.41 987.39,366.43 991.28,368.42 995.16,370.38 999.05,372.29 1002.93,374.17 1006.82,376.01 1010.70,377.82 1014.59,379.59 1018.47,381.33 1022.36,383.03 1026.24,384.71 1030.13,386.35 1034.01,387.96 1037.90,389.54 1041.78,391.09 1045.67,392.61 1049.55,394.10 1053.44,395.56 1057.32,397.00 1061.21,398.41 1065.09,399.79 1068.98,401.14 1072.86,402.47 1076.75,403.78 1080.63,405.06 1084.52,406.31 1088.40,407.54 1092.29,408.75 1096.17,409.93 1100.06,411.10 1103.94,412.24 1107.83,413.36 1111.71,414.45 1115.60,415.53 1115.60,212.50 649.40,212.50" fill="#fdd9d7"/>
<path d="M649.40,244.27 L653.28,248.58 L657.17,252.81 L661.05,256.96 L664.94,261.03 L668.82,265.02 L672.71,268.94 L676.60,272.78 L680.48,276.55 L684.37,280.25 L688.25,283.87 L692.13,287.43 L696.02,290.92 L699.90,294.35 L703.79,297.70 L707.67,301.00 L711.56,304.23 L715.44,307.40 L719.33,310.51 L723.21,313.57 L727.10,316.56 L730.99,319.50 L734.87,322.38 L738.75,325.20 L742.64,327.98 L746.52,330.70 L750.41,333.36 L754.29,335.98 L758.18,338.55 L762.06,341.07 L765.95,343.54 L769.83,345.96 L773.72,348.34 L777.61,350.67 L781.49,352.96 L785.38,355.21 L789.26,357.41 L793.14,359.57 L797.03,361.69 L800.91,363.77 L804.80,365.81 L808.68,367.81 L812.57,369.77 L816.45,371.70 L820.34,373.59 L824.22,375.44 L828.11,377.26 L831.99,379.04 L835.88,380.79 L839.76,382.51 L843.65,384.19 L847.53,385.84 L851.42,387.46 L855.30,389.05 L859.19,390.61 L863.07,392.14 L866.96,393.64 L870.84,395.11 L874.73,396.56 L878.62,397.97 L882.50,399.36 L886.38,400.72 L890.27,402.06 L894.15,403.37 L898.04,404.66 L901.92,405.92 L905.81,407.16 L909.69,408.38 L913.58,409.57 L917.46,410.74 L921.35,411.88 L925.24,413.01 L929.12,414.11 L933.00,415.20 L936.89,416.26 L940.77,417.30 L944.66,418.32 L948.54,419.33 L952.43,420.31 L956.31,421.27 L960.20,422.22 L964.09,423.15 L967.97,424.06 L971.85,424.95 L975.74,425.83 L979.62,426.69 L983.51,427.54 L987.39,428.36 L991.28,429.17 L995.16,429.97 L999.05,430.75 L1002.93,431.52 L1006.82,432.27 L1010.70,433.01 L1014.59,433.73 L1018.47,434.44 L1022.36,435.14 L1026.24,435.82 L1030.13,436.49 L1034.01,437.15 L1037.90,437.80 L1041.78,438.43 L1045.67,439.05 L1049.55,439.66 L1053.44,440.25 L1057.32,440.84 L1061.21,441.42 L1065.09,441.98 L1068.98,442.53 L1072.86,443.08 L1076.75,443.61 L1080.63,444.13 L1084.52,444.64 L1088.40,445.14 L1092.29,445.64 L1096.17,446.12 L1100.06,446.60 L1103.94,447.06 L1107.83,447.52 L1111.71,447.97 L1115.60,448.41" fill="none" stroke="#000" stroke-width="2.2" stroke-dasharray="5.7 4.0"/>
<path d="M649.40,78.23 L653.28,85.70 L657.17,93.02 L661.05,100.21 L664.94,107.26 L668.82,114.17 L672.71,120.95 L676.60,127.61 L680.48,134.14 L684.37,140.54 L688.25,146.82 L692.13,152.99 L696.02,159.03 L699.90,164.96 L703.79,170.78 L707.67,176.49 L711.56,182.09 L715.44,187.58 L719.33,192.97 L723.21,198.25 L727.10,203.44 L730.99,208.52 L734.87,213.51 L738.75,218.41 L742.64,223.21 L746.52,227.92 L750.41,232.54 L754.29,237.08 L758.18,241.53 L762.06,245.89 L765.95,250.17 L769.83,254.37 L773.72,258.49 L777.61,262.53 L781.49,266.49 L785.38,270.38 L789.26,274.19 L793.14,277.93 L797.03,281.61 L800.91,285.21 L804.80,288.74 L808.68,292.21 L812.57,295.60 L816.45,298.94 L820.34,302.21 L824.22,305.42 L828.11,308.57 L831.99,311.66 L835.88,314.69 L839.76,317.66 L843.65,320.58 L847.53,323.44 L851.42,326.24 L855.30,329.00 L859.19,331.70 L863.07,334.35 L866.96,336.94 L870.84,339.49 L874.73,341.99 L878.62,344.45 L882.50,346.86 L886.38,349.22 L890.27,351.53 L894.15,353.80 L898.04,356.03 L901.92,358.22 L905.81,360.37 L909.69,362.47 L913.58,364.53 L917.46,366.56 L921.35,368.55 L925.24,370.49 L929.12,372.41 L933.00,374.28 L936.89,376.12 L940.77,377.93 L944.66,379.70 L948.54,381.43 L952.43,383.14 L956.31,384.81 L960.20,386.45 L964.09,388.06 L967.97,389.64 L971.85,391.18 L975.74,392.70 L979.62,394.19 L983.51,395.65 L987.39,397.09 L991.28,398.49 L995.16,399.87 L999.05,401.23 L1002.93,402.55 L1006.82,403.86 L1010.70,405.13 L1014.59,406.39 L1018.47,407.62 L1022.36,408.82 L1026.24,410.01 L1030.13,411.17 L1034.01,412.31 L1037.90,413.42 L1041.78,414.52 L1045.67,415.59 L1049.55,416.65 L1053.44,417.68 L1057.32,418.70 L1061.21,419.69 L1065.09,420.67 L1068.98,421.63 L1072.86,422.57 L1076.75,423.49 L1080.63,424.40 L1084.52,425.28 L1088.40,426.15 L1092.29,427.01 L1096.17,427.85 L1100.06,428.67 L1103.94,429.47 L1107.83,430.26 L1111.71,431.04 L1115.60,431.80" fill="none" stroke="#6600cc" stroke-width="2.2" stroke-dasharray="5.7 4.0"/>
<path d="M649.40,-84.49 L653.28,-73.94 L657.17,-63.58 L661.05,-53.42 L664.94,-43.45 L668.82,-33.67 L672.71,-24.08 L676.60,-14.66 L680.48,-5.43 L684.37,3.62 L688.25,12.51 L692.13,21.22 L696.02,29.77 L699.90,38.16 L703.79,46.39 L707.67,54.46 L711.56,62.38 L715.44,70.15 L719.33,77.77 L723.21,85.24 L727.10,92.57 L730.99,99.77 L734.87,106.82 L738.75,113.75 L742.64,120.54 L746.52,127.20 L750.41,133.74 L754.29,140.15 L758.18,146.44 L762.06,152.61 L765.95,158.66 L769.83,164.60 L773.72,170.42 L777.61,176.14 L781.49,181.74 L785.38,187.24 L789.26,192.64 L793.14,197.93 L797.03,203.12 L800.91,208.21 L804.80,213.21 L808.68,218.11 L812.57,222.92 L816.45,227.63 L820.34,232.26 L824.22,236.80 L828.11,241.25 L831.99,245.62 L835.88,249.91 L839.76,254.11 L843.65,258.23 L847.53,262.28 L851.42,266.25 L855.30,270.14 L859.19,273.96 L863.07,277.71 L866.96,281.38 L870.84,284.99 L874.73,288.52 L878.62,291.99 L882.50,295.40 L886.38,298.74 L890.27,302.01 L894.15,305.22 L898.04,308.38 L901.92,311.47 L905.81,314.50 L909.69,317.48 L913.58,320.40 L917.46,323.26 L921.35,326.07 L925.24,328.83 L929.12,331.53 L933.00,334.18 L936.89,336.79 L940.77,339.34 L944.66,341.84 L948.54,344.30 L952.43,346.71 L956.31,349.07 L960.20,351.39 L964.09,353.67 L967.97,355.90 L971.85,358.09 L975.74,360.23 L979.62,362.34 L983.51,364.41 L987.39,366.43 L991.28,368.42 L995.16,370.38 L999.05,372.29 L1002.93,374.17 L1006.82,376.01 L1010.70,377.82 L1014.59,379.59 L1018.47,381.33 L1022.36,383.03 L1026.24,384.71 L1030.13,386.35 L1034.01,387.96 L1037.90,389.54 L1041.78,391.09 L1045.67,392.61 L1049.55,394.10 L1053.44,395.56 L1057.32,397.00 L1061.21,398.41 L1065.09,399.79 L1068.98,401.14 L1072.86,402.47 L1076.75,403.78 L1080.63,405.06 L1084.52,406.31 L1088.40,407.54 L1092.29,408.75 L1096.17,409.93 L1100.06,411.10 L1103.94,412.24 L1107.83,413.36 L1111.71,414.45 L1115.60,415.53" fill="none" stroke="#f00000" stroke-width="2.2" stroke-dasharray="5.7 4.0"/>
</g>
<rect x="771.30" y="320.30" width="13.0" height="13.0" rx="0.9" fill="#fff" stroke="#606060" stroke-width="1.1"/><path d="M771.30,326.80 L771.30,321.50 Q771.30,320.30 772.50,320.30 L783.10,320.30 Q784.30,320.30 784.30,321.50 L784.30,326.80 Z" fill="#606060" stroke="#606060" stroke-width="1.1"/>
<rect x="806.50" y="340.30" width="13.0" height="13.0" rx="0.9" fill="#fff" stroke="#606060" stroke-width="1.1"/><path d="M806.50,346.80 L806.50,341.50 Q806.50,340.30 807.70,340.30 L818.30,340.30 Q819.50,340.30 819.50,341.50 L819.50,346.80 Z" fill="#606060" stroke="#606060" stroke-width="1.1"/>
<rect x="865.40" y="357.70" width="13.0" height="13.0" rx="0.9" fill="#fff" stroke="#606060" stroke-width="1.1"/><path d="M865.40,364.20 L865.40,358.90 Q865.40,357.70 866.60,357.70 L877.20,357.70 Q878.40,357.70 878.40,358.90 L878.40,364.20 Z" fill="#606060" stroke="#606060" stroke-width="1.1"/>
<rect x="875.50" y="367.60" width="13.0" height="13.0" rx="0.9" fill="#fff" stroke="#606060" stroke-width="1.1"/><path d="M875.50,374.10 L875.50,368.80 Q875.50,367.60 876.70,367.60 L887.30,367.60 Q888.50,367.60 888.50,368.80 L888.50,374.10 Z" fill="#606060" stroke="#606060" stroke-width="1.1"/>
<rect x="969.50" y="419.10" width="13.0" height="13.0" rx="0.9" fill="#fff" stroke="#606060" stroke-width="1.1"/><path d="M969.50,425.60 L969.50,420.30 Q969.50,419.10 970.70,419.10 L981.30,419.10 Q982.50,419.10 982.50,420.30 L982.50,425.60 Z" fill="#606060" stroke="#606060" stroke-width="1.1"/>
<rect x="1016.40" y="429.40" width="13.0" height="13.0" rx="0.9" fill="#fff" stroke="#606060" stroke-width="1.1"/><path d="M1016.40,435.90 L1016.40,430.60 Q1016.40,429.40 1017.60,429.40 L1028.20,429.40 Q1029.40,429.40 1029.40,430.60 L1029.40,435.90 Z" fill="#606060" stroke="#606060" stroke-width="1.1"/>
<rect x="769.50" y="286.20" width="13.0" height="13.0" rx="0.9" fill="#fff" stroke="#089008" stroke-width="1.1"/><path d="M769.50,292.70 L769.50,287.40 Q769.50,286.20 770.70,286.20 L781.30,286.20 Q782.50,286.20 782.50,287.40 L782.50,292.70 Z" fill="#089008" stroke="#089008" stroke-width="1.1"/>
<rect x="839.80" y="327.10" width="13.0" height="13.0" rx="0.9" fill="#fff" stroke="#089008" stroke-width="1.1"/><path d="M839.80,333.60 L839.80,328.30 Q839.80,327.10 841.00,327.10 L851.60,327.10 Q852.80,327.10 852.80,328.30 L852.80,333.60 Z" fill="#089008" stroke="#089008" stroke-width="1.1"/>
<rect x="908.10" y="317.80" width="13.0" height="13.0" rx="0.9" fill="#fff" stroke="#089008" stroke-width="1.1"/><path d="M908.10,324.30 L908.10,319.00 Q908.10,317.80 909.30,317.80 L919.90,317.80 Q921.10,317.80 921.10,319.00 L921.10,324.30 Z" fill="#089008" stroke="#089008" stroke-width="1.1"/>
<rect x="920.20" y="354.70" width="13.0" height="13.0" rx="0.9" fill="#fff" stroke="#089008" stroke-width="1.1"/><path d="M920.20,361.20 L920.20,355.90 Q920.20,354.70 921.40,354.70 L932.00,354.70 Q933.20,354.70 933.20,355.90 L933.20,361.20 Z" fill="#089008" stroke="#089008" stroke-width="1.1"/>
<rect x="948.50" y="369.90" width="13.0" height="13.0" rx="0.9" fill="#fff" stroke="#089008" stroke-width="1.1"/><path d="M948.50,376.40 L948.50,371.10 Q948.50,369.90 949.70,369.90 L960.30,369.90 Q961.50,369.90 961.50,371.10 L961.50,376.40 Z" fill="#089008" stroke="#089008" stroke-width="1.1"/>
<rect x="962.70" y="351.40" width="13.0" height="13.0" rx="0.9" fill="#fff" stroke="#089008" stroke-width="1.1"/><path d="M962.70,357.90 L962.70,352.60 Q962.70,351.40 963.90,351.40 L974.50,351.40 Q975.70,351.40 975.70,352.60 L975.70,357.90 Z" fill="#089008" stroke="#089008" stroke-width="1.1"/>
<rect x="974.40" y="377.60" width="13.0" height="13.0" rx="0.9" fill="#fff" stroke="#089008" stroke-width="1.1"/><path d="M974.40,384.10 L974.40,378.80 Q974.40,377.60 975.60,377.60 L986.20,377.60 Q987.40,377.60 987.40,378.80 L987.40,384.10 Z" fill="#089008" stroke="#089008" stroke-width="1.1"/>
<rect x="993.50" y="361.20" width="13.0" height="13.0" rx="0.9" fill="#fff" stroke="#089008" stroke-width="1.1"/><path d="M993.50,367.70 L993.50,362.40 Q993.50,361.20 994.70,361.20 L1005.30,361.20 Q1006.50,361.20 1006.50,362.40 L1006.50,367.70 Z" fill="#089008" stroke="#089008" stroke-width="1.1"/>
<rect x="1004.00" y="361.90" width="13.0" height="13.0" rx="0.9" fill="#fff" stroke="#089008" stroke-width="1.1"/><path d="M1004.00,368.40 L1004.00,363.10 Q1004.00,361.90 1005.20,361.90 L1015.80,361.90 Q1017.00,361.90 1017.00,363.10 L1017.00,368.40 Z" fill="#089008" stroke="#089008" stroke-width="1.1"/>
<rect x="1010.50" y="369.40" width="13.0" height="13.0" rx="0.9" fill="#fff" stroke="#089008" stroke-width="1.1"/><path d="M1010.50,375.90 L1010.50,370.60 Q1010.50,369.40 1011.70,369.40 L1022.30,369.40 Q1023.50,369.40 1023.50,370.60 L1023.50,375.90 Z" fill="#089008" stroke="#089008" stroke-width="1.1"/>
<rect x="1013.30" y="388.80" width="13.0" height="13.0" rx="0.9" fill="#fff" stroke="#089008" stroke-width="1.1"/><path d="M1013.30,395.30 L1013.30,390.00 Q1013.30,388.80 1014.50,388.80 L1025.10,388.80 Q1026.30,388.80 1026.30,390.00 L1026.30,395.30 Z" fill="#089008" stroke="#089008" stroke-width="1.1"/>
<rect x="1014.70" y="381.10" width="13.0" height="13.0" rx="0.9" fill="#fff" stroke="#089008" stroke-width="1.1"/><path d="M1014.70,387.60 L1014.70,382.30 Q1014.70,381.10 1015.90,381.10 L1026.50,381.10 Q1027.70,381.10 1027.70,382.30 L1027.70,387.60 Z" fill="#089008" stroke="#089008" stroke-width="1.1"/>
<rect x="1031.30" y="405.60" width="13.0" height="13.0" rx="0.9" fill="#fff" stroke="#089008" stroke-width="1.1"/><path d="M1031.30,412.10 L1031.30,406.80 Q1031.30,405.60 1032.50,405.60 L1043.10,405.60 Q1044.30,405.60 1044.30,406.80 L1044.30,412.10 Z" fill="#089008" stroke="#089008" stroke-width="1.1"/>
<rect x="649.4" y="217.5" width="466.19999999999993" height="233.3" fill="none" stroke="#000" stroke-width="2.85"/>
<line x1="649.4" y1="420.37" x2="655.9" y2="420.37" stroke="#000" stroke-width="2.4"/>
<text x="642.3" y="425.77" font-size="18" class="b" fill="#000" text-anchor="end">50</text>
<line x1="649.4" y1="369.65" x2="655.9" y2="369.65" stroke="#000" stroke-width="2.4"/>
<text x="642.3" y="375.05" font-size="18" class="b" fill="#000" text-anchor="end">100</text>
<line x1="649.4" y1="318.93" x2="655.9" y2="318.93" stroke="#000" stroke-width="2.4"/>
<text x="642.3" y="324.33" font-size="18" class="b" fill="#000" text-anchor="end">150</text>
<line x1="649.4" y1="268.22" x2="655.9" y2="268.22" stroke="#000" stroke-width="2.4"/>
<text x="642.3" y="273.62" font-size="18" class="b" fill="#000" text-anchor="end">200</text>
<text x="642.3" y="222.90" font-size="18" class="b" fill="#000" text-anchor="end">250</text>
<line x1="649.4" y1="445.73" x2="652.6" y2="445.73" stroke="#000" stroke-width="2.0"/>
<line x1="649.4" y1="395.01" x2="652.6" y2="395.01" stroke="#000" stroke-width="2.0"/>
<line x1="649.4" y1="344.29" x2="652.6" y2="344.29" stroke="#000" stroke-width="2.0"/>
<line x1="649.4" y1="293.58" x2="652.6" y2="293.58" stroke="#000" stroke-width="2.0"/>
<line x1="649.4" y1="242.86" x2="652.6" y2="242.86" stroke="#000" stroke-width="2.0"/>
<line x1="719.57" y1="450.8" x2="719.57" y2="447.6" stroke="#000" stroke-width="2.0"/>
<line x1="760.62" y1="450.8" x2="760.62" y2="447.6" stroke="#000" stroke-width="2.0"/>
<line x1="789.74" y1="450.8" x2="789.74" y2="447.6" stroke="#000" stroke-width="2.0"/>
<line x1="812.33" y1="450.8" x2="812.33" y2="447.6" stroke="#000" stroke-width="2.0"/>
<line x1="830.79" y1="450.8" x2="830.79" y2="447.6" stroke="#000" stroke-width="2.0"/>
<line x1="846.39" y1="450.8" x2="846.39" y2="447.6" stroke="#000" stroke-width="2.0"/>
<line x1="859.91" y1="450.8" x2="859.91" y2="447.6" stroke="#000" stroke-width="2.0"/>
<line x1="871.83" y1="450.8" x2="871.83" y2="447.6" stroke="#000" stroke-width="2.0"/>
<line x1="952.67" y1="450.8" x2="952.67" y2="447.6" stroke="#000" stroke-width="2.0"/>
<line x1="993.72" y1="450.8" x2="993.72" y2="447.6" stroke="#000" stroke-width="2.0"/>
<line x1="1022.84" y1="450.8" x2="1022.84" y2="447.6" stroke="#000" stroke-width="2.0"/>
<line x1="1045.43" y1="450.8" x2="1045.43" y2="447.6" stroke="#000" stroke-width="2.0"/>
<line x1="1063.89" y1="450.8" x2="1063.89" y2="447.6" stroke="#000" stroke-width="2.0"/>
<line x1="1079.49" y1="450.8" x2="1079.49" y2="447.6" stroke="#000" stroke-width="2.0"/>
<line x1="1093.01" y1="450.8" x2="1093.01" y2="447.6" stroke="#000" stroke-width="2.0"/>
<line x1="1104.93" y1="450.8" x2="1104.93" y2="447.6" stroke="#000" stroke-width="2.0"/>
<line x1="882.50" y1="450.8" x2="882.50" y2="444.3" stroke="#000" stroke-width="2.4"/>
<text x="636.40" y="473.8" font-size="17.5" class="b" fill="#000">10<tspan font-size="11.8" dy="-6.6">1</tspan></text>
<text x="869.50" y="473.8" font-size="17.5" class="b" fill="#000">10<tspan font-size="11.8" dy="-6.6">2</tspan></text>
<text x="1102.60" y="473.8" font-size="17.5" class="b" fill="#000">10<tspan font-size="11.8" dy="-6.6">3</tspan></text>
<text x="820.6" y="499.3" font-size="27" class="b" fill="#000"><tspan font-style="italic" stroke="#000" stroke-width="0.5">σ</tspan> <tspan font-weight="normal">(</tspan>S cm<tspan font-size="19" dy="-10.3">-1</tspan><tspan dy="10.3" font-weight="normal">)</tspan></text>
<text transform="translate(606.2,394.6) rotate(-90) scale(1.02,1)" font-size="27" class="b" fill="#000">S <tspan font-weight="normal">(</tspan>µV K<tspan font-size="19" dy="-11.5">-1</tspan><tspan dy="11.5" font-weight="normal">)</tspan></text>
<rect x="971.70" y="238.80" width="13.2" height="13.2" rx="0.9" fill="#fff" stroke="#606060" stroke-width="1.1"/><path d="M971.70,245.40 L971.70,240.00 Q971.70,238.80 972.90,238.80 L983.70,238.80 Q984.90,238.80 984.90,240.00 L984.90,245.40 Z" fill="#606060" stroke="#606060" stroke-width="1.1"/><rect x="971.70" y="264.00" width="13.2" height="13.2" rx="0.9" fill="#fff" stroke="#089008" stroke-width="1.1"/><path d="M971.70,270.60 L971.70,265.20 Q971.70,264.00 972.90,264.00 L983.70,264.00 Q984.90,264.00 984.90,265.20 L984.90,270.60 Z" fill="#089008" stroke="#089008" stroke-width="1.1"/>
<text transform="translate(1003,250.7) scale(1.10,1)" font-size="15.6" class="b" fill="#000" stroke="#000" stroke-width="0.25">PDPPg<tspan font-size="11.5" dy="4.6">0</tspan><tspan dy="-4.6">-Se</tspan></text>
<text transform="translate(1003,275.9) scale(1.10,1)" font-size="15.6" class="b" fill="#000" stroke="#000" stroke-width="0.25">PDPPg<tspan font-size="11.5" dy="4.6">0.3</tspan><tspan dy="-4.6">-Se</tspan></text>
<line x1="659" y1="391.2" x2="687.2" y2="391.2" stroke="#000" stroke-width="1.7" stroke-dasharray="4.5 3.4"/>
<text transform="translate(695.8,395.6) scale(1.075,1)" font-size="13" class="b" fill="#000" stroke="#000" stroke-width="0.2">PF = 50 µW m<tspan font-size="9" dy="-5">-1</tspan><tspan dy="5"> K</tspan><tspan font-size="9" dy="-5">-2</tspan></text>
<line x1="659" y1="410.7" x2="687.2" y2="410.7" stroke="#6600cc" stroke-width="1.7" stroke-dasharray="4.5 3.4"/>
<text transform="translate(695.8,415.1) scale(1.075,1)" font-size="13" class="b" fill="#000" stroke="#000" stroke-width="0.2">PF = 150 µW m<tspan font-size="9" dy="-5">-1</tspan><tspan dy="5"> K</tspan><tspan font-size="9" dy="-5">-2</tspan></text>
<line x1="659" y1="430.1" x2="687.2" y2="430.1" stroke="#f00000" stroke-width="1.7" stroke-dasharray="4.5 3.4"/>
<text transform="translate(695.8,434.5) scale(1.075,1)" font-size="13" class="b" fill="#000" stroke="#000" stroke-width="0.2">PF = 300 µW m<tspan font-size="9" dy="-5">-1</tspan><tspan dy="5"> K</tspan><tspan font-size="9" dy="-5">-2</tspan></text>
</svg></body></html>
